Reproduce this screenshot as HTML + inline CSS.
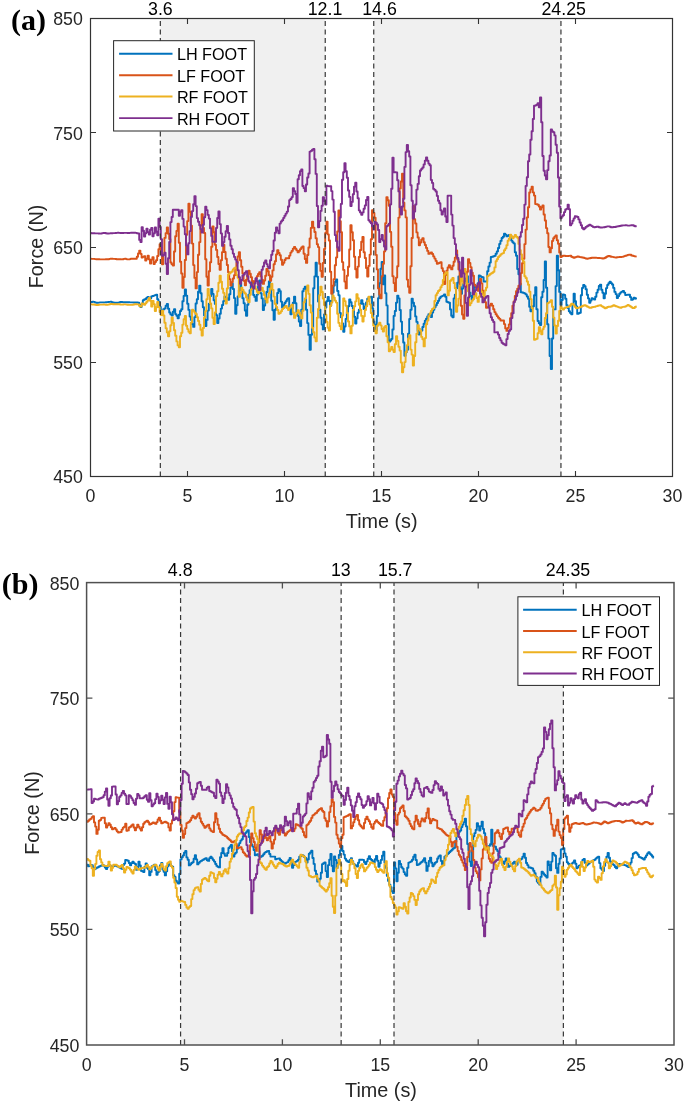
<!DOCTYPE html>
<html><head><meta charset="utf-8"><style>
html,body{margin:0;padding:0;background:#fff;}
svg{display:block;filter:blur(0.35px);}
text{font-family:'Liberation Sans',sans-serif;}
</style></head><body>
<svg width="685" height="1104" viewBox="0 0 685 1104">
<rect width="685" height="1104" fill="#fff"/>
<rect x="160.34" y="18.50" width="164.90" height="458.00" fill="#f0f0f0"/>
<rect x="373.74" y="18.50" width="187.21" height="458.00" fill="#f0f0f0"/>
<polyline points="90.0,302.1 91.2,302.1 91.2,302.0 92.4,302.0 92.4,301.8 93.6,301.8 93.6,301.9 94.8,301.9 94.8,302.4 96.0,302.4 96.0,302.8 97.2,302.8 97.2,302.8 98.4,302.8 98.4,302.6 99.6,302.6 99.6,302.4 100.8,302.4 100.8,302.4 102.0,302.4 102.0,302.4 103.2,302.4 103.2,302.4 104.4,302.4 104.4,302.4 105.6,302.4 105.6,302.2 106.8,302.2 106.8,302.1 108.0,302.1 108.0,302.0 109.2,302.0 109.2,301.9 110.4,301.9 110.4,301.8 111.6,301.8 111.6,302.1 112.8,302.1 112.8,302.5 114.0,302.5 114.0,302.8 115.2,302.8 115.2,302.7 116.4,302.7 116.4,302.7 117.6,302.7 117.6,302.6 118.8,302.6 118.8,302.4 120.0,302.4 120.0,302.0 121.2,302.0 121.2,301.9 122.4,301.9 122.4,302.1 123.6,302.1 123.6,302.2 124.8,302.2 124.8,302.3 126.0,302.3 126.0,302.3 127.2,302.3 127.2,302.3 128.4,302.3 128.4,302.3 129.6,302.3 129.6,302.4 130.8,302.4 130.8,302.4 132.0,302.4 132.0,302.4 133.2,302.4 133.2,302.5 134.4,302.5 134.4,302.5 135.6,302.5 135.6,302.5 136.8,302.5 136.8,302.5 138.0,302.5 138.0,302.6 139.2,302.6 139.2,305.0 140.4,305.0 140.4,307.0 141.6,307.0 141.6,303.7 142.8,303.7 142.8,300.3 144.0,300.3 144.0,299.5 145.2,299.5 145.2,299.0 146.4,299.0 146.4,297.6 147.6,297.6 147.6,297.0 148.8,297.0 148.8,298.1 150.0,298.1 150.0,298.4 151.2,298.4 151.2,296.4 152.4,296.4 152.4,296.0 153.6,296.0 153.6,295.6 154.8,295.6 154.8,295.1 156.0,295.1 156.0,294.7 157.2,294.7 157.2,299.3 158.4,299.3 158.4,301.8 159.6,301.8 159.6,307.0 160.8,307.0 160.8,311.5 162.0,311.5 162.0,310.6 163.2,310.6 163.2,309.3 164.4,309.3 164.4,308.4 165.6,308.4 165.6,305.8 166.8,305.8 166.8,304.0 168.0,304.0 168.0,308.7 169.2,308.7 169.2,312.5 170.4,312.5 170.4,314.4 171.6,314.4 171.6,315.6 172.8,315.6 172.8,311.7 174.0,311.7 174.0,309.2 175.2,309.2 175.2,314.1 176.4,314.1 176.4,315.7 177.6,315.7 177.6,318.2 178.8,318.2 178.8,314.7 180.0,314.7 180.0,311.0 181.2,311.0 181.2,309.2 182.4,309.2 182.4,301.2 183.6,301.2 183.6,295.9 184.8,295.9 184.8,289.4 186.0,289.4 186.0,295.6 187.2,295.6 187.2,303.8 188.4,303.8 188.4,309.9 189.6,309.9 189.6,316.6 190.8,316.6 190.8,319.9 192.0,319.9 192.0,324.2 193.2,324.2 193.2,326.9 194.4,326.9 194.4,317.1 195.6,317.1 195.6,303.5 196.8,303.5 196.8,299.3 198.0,299.3 198.0,291.8 199.2,291.8 199.2,285.6 200.4,285.6 200.4,293.3 201.6,293.3 201.6,301.3 202.8,301.3 202.8,307.3 204.0,307.3 204.0,315.4 205.2,315.4 205.2,326.1 206.4,326.1 206.4,319.9 207.6,319.9 207.6,310.6 208.8,310.6 208.8,303.8 210.0,303.8 210.0,296.1 211.2,296.1 211.2,288.9 212.4,288.9 212.4,293.9 213.6,293.9 213.6,300.2 214.8,300.2 214.8,303.9 216.0,303.9 216.0,315.1 217.2,315.1 217.2,323.1 218.4,323.1 218.4,318.5 219.6,318.5 219.6,313.8 220.8,313.8 220.8,308.6 222.0,308.6 222.0,305.0 223.2,305.0 223.2,301.1 224.4,301.1 224.4,296.8 225.6,296.8 225.6,297.6 226.8,297.6 226.8,298.5 228.0,298.5 228.0,299.8 229.2,299.8 229.2,294.3 230.4,294.3 230.4,287.6 231.6,287.6 231.6,283.4 232.8,283.4 232.8,289.0 234.0,289.0 234.0,298.1 235.2,298.1 235.2,313.7 236.4,313.7 236.4,305.3 237.6,305.3 237.6,296.4 238.8,296.4 238.8,290.2 240.0,290.2 240.0,283.8 241.2,283.8 241.2,290.3 242.4,290.3 242.4,298.2 243.6,298.2 243.6,303.2 244.8,303.2 244.8,310.5 246.0,310.5 246.0,315.8 247.2,315.8 247.2,304.8 248.4,304.8 248.4,294.6 249.6,294.6 249.6,290.2 250.8,290.2 250.8,285.0 252.0,285.0 252.0,281.7 253.2,281.7 253.2,295.0 254.4,295.0 254.4,296.9 255.6,296.9 255.6,300.9 256.8,300.9 256.8,294.6 258.0,294.6 258.0,286.5 259.2,286.5 259.2,280.5 260.4,280.5 260.4,293.3 261.6,293.3 261.6,298.4 262.8,298.4 262.8,310.1 264.0,310.1 264.0,305.5 265.2,305.5 265.2,298.3 266.4,298.3 266.4,292.0 267.6,292.0 267.6,286.7 268.8,286.7 268.8,281.5 270.0,281.5 270.0,289.4 271.2,289.4 271.2,300.8 272.4,300.8 272.4,310.3 273.6,310.3 273.6,319.7 274.8,319.7 274.8,309.7 276.0,309.7 276.0,303.6 277.2,303.6 277.2,293.0 278.4,293.0 278.4,289.1 279.6,289.1 279.6,291.1 280.8,291.1 280.8,301.6 282.0,301.6 282.0,307.6 283.2,307.6 283.2,305.1 284.4,305.1 284.4,303.0 285.6,303.0 285.6,301.2 286.8,301.2 286.8,299.3 288.0,299.3 288.0,298.2 289.2,298.2 289.2,307.8 290.4,307.8 290.4,314.3 291.6,314.3 291.6,308.5 292.8,308.5 292.8,302.7 294.0,302.7 294.0,296.7 295.2,296.7 295.2,303.2 296.4,303.2 296.4,312.6 297.6,312.6 297.6,315.9 298.8,315.9 298.8,321.5 300.0,321.5 300.0,326.1 301.2,326.1 301.2,309.8 302.4,309.8 302.4,291.3 303.6,291.3 303.6,288.7 304.8,288.7 304.8,286.6 306.0,286.6 306.0,309.8 307.2,309.8 307.2,323.1 308.4,323.1 308.4,334.9 309.6,334.9 309.6,349.8 310.8,349.8 310.8,334.8 312.0,334.8 312.0,327.8 313.2,327.8 313.2,288.3 314.4,288.3 314.4,276.4 315.6,276.4 315.6,262.7 316.8,262.7 316.8,276.6 318.0,276.6 318.0,301.5 319.2,301.5 319.2,309.6 320.4,309.6 320.4,317.7 321.6,317.7 321.6,324.6 322.8,324.6 322.8,329.4 324.0,329.4 324.0,314.5 325.2,314.5 325.2,307.5 326.4,307.5 326.4,301.3 327.6,301.3 327.6,297.0 328.8,297.0 328.8,300.7 330.0,300.7 330.0,305.8 331.2,305.8 331.2,300.9 332.4,300.9 332.4,292.6 333.6,292.6 333.6,285.6 334.8,285.6 334.8,281.9 336.0,281.9 336.0,279.5 337.2,279.5 337.2,291.0 338.4,291.0 338.4,295.3 339.6,295.3 339.6,312.9 340.8,312.9 340.8,317.2 342.0,317.2 342.0,323.5 343.2,323.5 343.2,331.8 344.4,331.8 344.4,326.5 345.6,326.5 345.6,318.9 346.8,318.9 346.8,312.6 348.0,312.6 348.0,306.3 349.2,306.3 349.2,299.5 350.4,299.5 350.4,302.3 351.6,302.3 351.6,306.0 352.8,306.0 352.8,308.5 354.0,308.5 354.0,316.8 355.2,316.8 355.2,323.5 356.4,323.5 356.4,318.4 357.6,318.4 357.6,312.7 358.8,312.7 358.8,309.8 360.0,309.8 360.0,303.8 361.2,303.8 361.2,300.1 362.4,300.1 362.4,303.8 363.6,303.8 363.6,309.0 364.8,309.0 364.8,306.6 366.0,306.6 366.0,302.4 367.2,302.4 367.2,298.7 368.4,298.7 368.4,298.0 369.6,298.0 369.6,297.4 370.8,297.4 370.8,296.8 372.0,296.8 372.0,308.2 373.2,308.2 373.2,321.4 374.4,321.4 374.4,324.8 375.6,324.8 375.6,330.6 376.8,330.6 376.8,316.0 378.0,316.0 378.0,298.3 379.2,298.3 379.2,283.3 380.4,283.3 380.4,268.7 381.6,268.7 381.6,261.9 382.8,261.9 382.8,284.2 384.0,284.2 384.0,275.5 385.2,275.5 385.2,293.2 386.4,293.2 386.4,305.4 387.6,305.4 387.6,324.2 388.8,324.2 388.8,341.8 390.0,341.8 390.0,340.5 391.2,340.5 391.2,338.9 392.4,338.9 392.4,329.5 393.6,329.5 393.6,315.9 394.8,315.9 394.8,311.0 396.0,311.0 396.0,302.6 397.2,302.6 397.2,295.6 398.4,295.6 398.4,298.4 399.6,298.4 399.6,310.0 400.8,310.0 400.8,321.6 402.0,321.6 402.0,333.9 403.2,333.9 403.2,342.5 404.4,342.5 404.4,355.8 405.6,355.8 405.6,352.3 406.8,352.3 406.8,349.7 408.0,349.7 408.0,333.7 409.2,333.7 409.2,319.0 410.4,319.0 410.4,309.8 411.6,309.8 411.6,298.7 412.8,298.7 412.8,302.7 414.0,302.7 414.0,306.2 415.2,306.2 415.2,316.4 416.4,316.4 416.4,321.9 417.6,321.9 417.6,331.0 418.8,331.0 418.8,334.5 420.0,334.5 420.0,332.0 421.2,332.0 421.2,330.6 422.4,330.6 422.4,327.0 423.6,327.0 423.6,323.8 424.8,323.8 424.8,320.6 426.0,320.6 426.0,318.7 427.2,318.7 427.2,316.5 428.4,316.5 428.4,314.3 429.6,314.3 429.6,315.9 430.8,315.9 430.8,317.1 432.0,317.1 432.0,312.5 433.2,312.5 433.2,309.8 434.4,309.8 434.4,307.3 435.6,307.3 435.6,305.2 436.8,305.2 436.8,303.0 438.0,303.0 438.0,300.7 439.2,300.7 439.2,298.3 440.4,298.3 440.4,296.7 441.6,296.7 441.6,296.1 442.8,296.1 442.8,295.6 444.0,295.6 444.0,294.5 445.2,294.5 445.2,296.8 446.4,296.8 446.4,301.7 447.6,301.7 447.6,302.2 448.8,302.2 448.8,302.7 450.0,302.7 450.0,309.4 451.2,309.4 451.2,315.7 452.4,315.7 452.4,317.3 453.6,317.3 453.6,298.4 454.8,298.4 454.8,294.7 456.0,294.7 456.0,288.2 457.2,288.2 457.2,282.6 458.4,282.6 458.4,276.4 459.6,276.4 459.6,286.6 460.8,286.6 460.8,293.8 462.0,293.8 462.0,288.6 463.2,288.6 463.2,283.8 464.4,283.8 464.4,281.3 465.6,281.3 465.6,278.4 466.8,278.4 466.8,276.3 468.0,276.3 468.0,285.2 469.2,285.2 469.2,292.6 470.4,292.6 470.4,296.0 471.6,296.0 471.6,299.5 472.8,299.5 472.8,291.6 474.0,291.6 474.0,285.1 475.2,285.1 475.2,287.1 476.4,287.1 476.4,288.9 477.6,288.9 477.6,283.2 478.8,283.2 478.8,275.4 480.0,275.4 480.0,276.2 481.2,276.2 481.2,277.0 482.4,277.0 482.4,277.3 483.6,277.3 483.6,281.6 484.8,281.6 484.8,281.5 486.0,281.5 486.0,281.5 487.2,281.5 487.2,271.2 488.4,271.2 488.4,266.5 489.6,266.5 489.6,262.6 490.8,262.6 490.8,257.0 492.0,257.0 492.0,256.8 493.2,256.8 493.2,256.3 494.4,256.3 494.4,255.9 495.6,255.9 495.6,253.8 496.8,253.8 496.8,251.4 498.0,251.4 498.0,248.0 499.2,248.0 499.2,243.9 500.4,243.9 500.4,240.9 501.6,240.9 501.6,238.0 502.8,238.0 502.8,236.8 504.0,236.8 504.0,233.7 505.2,233.7 505.2,234.6 506.4,234.6 506.4,236.4 507.6,236.4 507.6,235.7 508.8,235.7 508.8,235.0 510.0,235.0 510.0,238.1 511.2,238.1 511.2,240.6 512.4,240.6 512.4,242.3 513.6,242.3 513.6,243.4 514.8,243.4 514.8,252.3 516.0,252.3 516.0,255.8 517.2,255.8 517.2,269.0 518.4,269.0 518.4,274.3 519.6,274.3 519.6,283.7 520.8,283.7 520.8,292.2 522.0,292.2 522.0,292.5 523.2,292.5 523.2,292.9 524.4,292.9 524.4,293.4 525.6,293.4 525.6,294.4 526.8,294.4 526.8,296.5 528.0,296.5 528.0,298.8 529.2,298.8 529.2,306.7 530.4,306.7 530.4,311.2 531.6,311.2 531.6,308.6 532.8,308.6 532.8,306.3 534.0,306.3 534.0,295.2 535.2,295.2 535.2,287.2 536.4,287.2 536.4,309.3 537.6,309.3 537.6,321.0 538.8,321.0 538.8,323.2 540.0,323.2 540.0,325.1 541.2,325.1 541.2,297.2 542.4,297.2 542.4,291.8 543.6,291.8 543.6,280.0 544.8,280.0 544.8,261.4 546.0,261.4 546.0,287.7 547.2,287.7 547.2,324.3 548.4,324.3 548.4,338.6 549.6,338.6 549.6,356.0 550.8,356.0 550.8,369.1 552.0,369.1 552.0,338.5 553.2,338.5 553.2,309.4 554.4,309.4 554.4,309.4 555.6,309.4 555.6,286.1 556.8,286.1 556.8,255.8 558.0,255.8 558.0,270.3 559.2,270.3 559.2,291.9 560.4,291.9 560.4,304.9 561.6,304.9 561.6,300.0 562.8,300.0 562.8,294.5 564.0,294.5 564.0,294.9 565.2,294.9 565.2,298.7 566.4,298.7 566.4,305.2 567.6,305.2 567.6,308.0 568.8,308.0 568.8,311.2 570.0,311.2 570.0,312.9 571.2,312.9 571.2,314.3 572.4,314.3 572.4,304.2 573.6,304.2 573.6,293.7 574.8,293.7 574.8,301.3 576.0,301.3 576.0,306.5 577.2,306.5 577.2,313.9 578.4,313.9 578.4,313.3 579.6,313.3 579.6,312.8 580.8,312.8 580.8,295.3 582.0,295.3 582.0,287.9 583.2,287.9 583.2,285.0 584.4,285.0 584.4,286.3 585.6,286.3 585.6,289.2 586.8,289.2 586.8,294.7 588.0,294.7 588.0,298.4 589.2,298.4 589.2,302.8 590.4,302.8 590.4,300.5 591.6,300.5 591.6,298.3 592.8,298.3 592.8,298.9 594.0,298.9 594.0,299.6 595.2,299.6 595.2,296.7 596.4,296.7 596.4,292.6 597.6,292.6 597.6,289.8 598.8,289.8 598.8,286.0 600.0,286.0 600.0,284.6 601.2,284.6 601.2,289.7 602.4,289.7 602.4,292.8 603.6,292.8 603.6,298.2 604.8,298.2 604.8,293.7 606.0,293.7 606.0,288.1 607.2,288.1 607.2,284.9 608.4,284.9 608.4,283.2 609.6,283.2 609.6,281.7 610.8,281.7 610.8,283.1 612.0,283.1 612.0,284.5 613.2,284.5 613.2,287.9 614.4,287.9 614.4,291.9 615.6,291.9 615.6,294.1 616.8,294.1 616.8,298.0 618.0,298.0 618.0,296.1 619.2,296.1 619.2,293.8 620.4,293.8 620.4,292.4 621.6,292.4 621.6,291.6 622.8,291.6 622.8,290.9 624.0,290.9 624.0,292.6 625.2,292.6 625.2,295.1 626.4,295.1 626.4,294.9 627.6,294.9 627.6,294.7 628.8,294.7 628.8,294.7 630.0,294.7 630.0,297.1 631.2,297.1 631.2,299.9 632.4,299.9 632.4,299.2 633.6,299.2 633.6,297.7 634.8,297.7 634.8,298.3 636.0,298.3 636.0,298.9 636.5,298.9" fill="none" stroke="#0072BD" stroke-width="1.9" stroke-linejoin="round"/>
<polyline points="90.0,258.8 91.2,258.8 91.2,258.9 92.4,258.9 92.4,258.9 93.6,258.9 93.6,258.9 94.8,258.9 94.8,259.1 96.0,259.1 96.0,259.3 97.2,259.3 97.2,259.3 98.4,259.3 98.4,259.3 99.6,259.3 99.6,259.4 100.8,259.4 100.8,259.4 102.0,259.4 102.0,259.4 103.2,259.4 103.2,259.4 104.4,259.4 104.4,259.4 105.6,259.4 105.6,259.3 106.8,259.3 106.8,259.3 108.0,259.3 108.0,259.2 109.2,259.2 109.2,258.9 110.4,258.9 110.4,258.8 111.6,258.8 111.6,258.8 112.8,258.8 112.8,258.9 114.0,258.9 114.0,258.9 115.2,258.9 115.2,259.0 116.4,259.0 116.4,259.2 117.6,259.2 117.6,259.2 118.8,259.2 118.8,259.3 120.0,259.3 120.0,259.3 121.2,259.3 121.2,259.4 122.4,259.4 122.4,259.2 123.6,259.2 123.6,258.9 124.8,258.9 124.8,258.8 126.0,258.8 126.0,259.1 127.2,259.1 127.2,259.4 128.4,259.4 128.4,259.4 129.6,259.4 129.6,259.1 130.8,259.1 130.8,258.8 132.0,258.8 132.0,258.8 133.2,258.8 133.2,258.8 134.4,258.8 134.4,258.8 135.6,258.8 135.6,258.7 136.8,258.7 136.8,256.7 138.0,256.7 138.0,253.4 139.2,253.4 139.2,250.6 140.4,250.6 140.4,253.9 141.6,253.9 141.6,257.6 142.8,257.6 142.8,256.9 144.0,256.9 144.0,256.1 145.2,256.1 145.2,260.5 146.4,260.5 146.4,258.7 147.6,258.7 147.6,255.7 148.8,255.7 148.8,259.4 150.0,259.4 150.0,263.6 151.2,263.6 151.2,259.6 152.4,259.6 152.4,257.3 153.6,257.3 153.6,264.0 154.8,264.0 154.8,262.1 156.0,262.1 156.0,260.3 157.2,260.3 157.2,256.0 158.4,256.0 158.4,249.2 159.6,249.2 159.6,244.3 160.8,244.3 160.8,254.3 162.0,254.3 162.0,264.2 163.2,264.2 163.2,254.6 164.4,254.6 164.4,237.9 165.6,237.9 165.6,233.1 166.8,233.1 166.8,227.5 168.0,227.5 168.0,233.8 169.2,233.8 169.2,239.1 170.4,239.1 170.4,262.5 171.6,262.5 171.6,264.2 172.8,264.2 172.8,265.6 174.0,265.6 174.0,251.5 175.2,251.5 175.2,236.2 176.4,236.2 176.4,230.9 177.6,230.9 177.6,223.7 178.8,223.7 178.8,242.7 180.0,242.7 180.0,261.7 181.2,261.7 181.2,273.5 182.4,273.5 182.4,287.8 183.6,287.8 183.6,277.1 184.8,277.1 184.8,260.0 186.0,260.0 186.0,234.8 187.2,234.8 187.2,221.1 188.4,221.1 188.4,203.7 189.6,203.7 189.6,211.7 190.8,211.7 190.8,225.7 192.0,225.7 192.0,243.6 193.2,243.6 193.2,265.1 194.4,265.1 194.4,277.9 195.6,277.9 195.6,288.4 196.8,288.4 196.8,272.1 198.0,272.1 198.0,254.7 199.2,254.7 199.2,242.1 200.4,242.1 200.4,225.4 201.6,225.4 201.6,214.2 202.8,214.2 202.8,227.9 204.0,227.9 204.0,233.0 205.2,233.0 205.2,259.2 206.4,259.2 206.4,276.8 207.6,276.8 207.6,285.6 208.8,285.6 208.8,271.2 210.0,271.2 210.0,262.3 211.2,262.3 211.2,246.8 212.4,246.8 212.4,226.5 213.6,226.5 213.6,232.3 214.8,232.3 214.8,244.7 216.0,244.7 216.0,249.9 217.2,249.9 217.2,257.0 218.4,257.0 218.4,264.0 219.6,264.0 219.6,269.8 220.8,269.8 220.8,260.3 222.0,260.3 222.0,252.1 223.2,252.1 223.2,244.7 224.4,244.7 224.4,252.0 225.6,252.0 225.6,258.7 226.8,258.7 226.8,265.0 228.0,265.0 228.0,272.3 229.2,272.3 229.2,279.1 230.4,279.1 230.4,285.6 231.6,285.6 231.6,282.1 232.8,282.1 232.8,278.5 234.0,278.5 234.0,275.3 235.2,275.3 235.2,269.1 236.4,269.1 236.4,262.9 237.6,262.9 237.6,256.5 238.8,256.5 238.8,252.2 240.0,252.2 240.0,260.2 241.2,260.2 241.2,266.7 242.4,266.7 242.4,273.4 243.6,273.4 243.6,280.9 244.8,280.9 244.8,285.3 246.0,285.3 246.0,279.6 247.2,279.6 247.2,275.5 248.4,275.5 248.4,270.8 249.6,270.8 249.6,273.7 250.8,273.7 250.8,277.3 252.0,277.3 252.0,281.0 253.2,281.0 253.2,284.1 254.4,284.1 254.4,281.3 255.6,281.3 255.6,278.8 256.8,278.8 256.8,276.3 258.0,276.3 258.0,274.0 259.2,274.0 259.2,272.2 260.4,272.2 260.4,276.4 261.6,276.4 261.6,279.6 262.8,279.6 262.8,283.9 264.0,283.9 264.0,280.6 265.2,280.6 265.2,275.8 266.4,275.8 266.4,269.0 267.6,269.0 267.6,271.3 268.8,271.3 268.8,275.2 270.0,275.2 270.0,280.7 271.2,280.7 271.2,276.8 272.4,276.8 272.4,270.4 273.6,270.4 273.6,264.2 274.8,264.2 274.8,261.2 276.0,261.2 276.0,254.4 277.2,254.4 277.2,250.1 278.4,250.1 278.4,253.0 279.6,253.0 279.6,255.3 280.8,255.3 280.8,259.8 282.0,259.8 282.0,264.7 283.2,264.7 283.2,262.7 284.4,262.7 284.4,260.0 285.6,260.0 285.6,258.2 286.8,258.2 286.8,258.3 288.0,258.3 288.0,258.3 289.2,258.3 289.2,255.6 290.4,255.6 290.4,252.6 291.6,252.6 291.6,250.9 292.8,250.9 292.8,248.6 294.0,248.6 294.0,247.0 295.2,247.0 295.2,248.7 296.4,248.7 296.4,250.4 297.6,250.4 297.6,252.4 298.8,252.4 298.8,250.9 300.0,250.9 300.0,249.1 301.2,249.1 301.2,247.5 302.4,247.5 302.4,246.4 303.6,246.4 303.6,253.7 304.8,253.7 304.8,259.0 306.0,259.0 306.0,262.9 307.2,262.9 307.2,255.0 308.4,255.0 308.4,247.5 309.6,247.5 309.6,238.5 310.8,238.5 310.8,227.9 312.0,227.9 312.0,221.7 313.2,221.7 313.2,227.6 314.4,227.6 314.4,232.0 315.6,232.0 315.6,238.2 316.8,238.2 316.8,244.2 318.0,244.2 318.0,247.1 319.2,247.1 319.2,263.7 320.4,263.7 320.4,270.9 321.6,270.9 321.6,276.8 322.8,276.8 322.8,262.9 324.0,262.9 324.0,249.0 325.2,249.0 325.2,233.0 326.4,233.0 326.4,221.6 327.6,221.6 327.6,234.4 328.8,234.4 328.8,240.5 330.0,240.5 330.0,271.7 331.2,271.7 331.2,293.7 332.4,293.7 332.4,285.7 333.6,285.7 333.6,279.1 334.8,279.1 334.8,265.2 336.0,265.2 336.0,257.4 337.2,257.4 337.2,231.5 338.4,231.5 338.4,210.4 339.6,210.4 339.6,221.3 340.8,221.3 340.8,232.3 342.0,232.3 342.0,262.1 343.2,262.1 343.2,269.9 344.4,269.9 344.4,281.6 345.6,281.6 345.6,288.4 346.8,288.4 346.8,275.7 348.0,275.7 348.0,266.7 349.2,266.7 349.2,249.5 350.4,249.5 350.4,225.3 351.6,225.3 351.6,232.3 352.8,232.3 352.8,240.2 354.0,240.2 354.0,256.8 355.2,256.8 355.2,269.2 356.4,269.2 356.4,277.6 357.6,277.6 357.6,266.6 358.8,266.6 358.8,257.0 360.0,257.0 360.0,250.0 361.2,250.0 361.2,241.8 362.4,241.8 362.4,237.0 363.6,237.0 363.6,252.3 364.8,252.3 364.8,258.0 366.0,258.0 366.0,268.0 367.2,268.0 367.2,276.5 368.4,276.5 368.4,265.9 369.6,265.9 369.6,254.6 370.8,254.6 370.8,239.3 372.0,239.3 372.0,210.3 373.2,210.3 373.2,213.0 374.4,213.0 374.4,217.8 375.6,217.8 375.6,254.9 376.8,254.9 376.8,269.4 378.0,269.4 378.0,288.4 379.2,288.4 379.2,294.6 380.4,294.6 380.4,298.3 381.6,298.3 381.6,276.3 382.8,276.3 382.8,263.8 384.0,263.8 384.0,251.4 385.2,251.4 385.2,223.2 386.4,223.2 386.4,197.1 387.6,197.1 387.6,200.2 388.8,200.2 388.8,205.7 390.0,205.7 390.0,231.9 391.2,231.9 391.2,246.7 392.4,246.7 392.4,276.3 393.6,276.3 393.6,283.1 394.8,283.1 394.8,291.0 396.0,291.0 396.0,277.6 397.2,277.6 397.2,266.3 398.4,266.3 398.4,217.6 399.6,217.6 399.6,188.4 400.8,188.4 400.8,181.5 402.0,181.5 402.0,173.7 403.2,173.7 403.2,202.7 404.4,202.7 404.4,210.4 405.6,210.4 405.6,217.4 406.8,217.4 406.8,279.6 408.0,279.6 408.0,286.8 409.2,286.8 409.2,292.8 410.4,292.8 410.4,266.3 411.6,266.3 411.6,238.0 412.8,238.0 412.8,205.9 414.0,205.9 414.0,219.2 415.2,219.2 415.2,223.5 416.4,223.5 416.4,232.4 417.6,232.4 417.6,237.5 418.8,237.5 418.8,245.2 420.0,245.2 420.0,242.5 421.2,242.5 421.2,239.6 422.4,239.6 422.4,238.1 423.6,238.1 423.6,242.3 424.8,242.3 424.8,245.0 426.0,245.0 426.0,247.9 427.2,247.9 427.2,250.9 428.4,250.9 428.4,253.9 429.6,253.9 429.6,253.3 430.8,253.3 430.8,252.5 432.0,252.5 432.0,254.0 433.2,254.0 433.2,256.4 434.4,256.4 434.4,258.6 435.6,258.6 435.6,260.9 436.8,260.9 436.8,263.7 438.0,263.7 438.0,263.3 439.2,263.3 439.2,262.7 440.4,262.7 440.4,262.2 441.6,262.2 441.6,268.2 442.8,268.2 442.8,271.1 444.0,271.1 444.0,284.1 445.2,284.1 445.2,275.0 446.4,275.0 446.4,270.7 447.6,270.7 447.6,267.5 448.8,267.5 448.8,265.2 450.0,265.2 450.0,267.6 451.2,267.6 451.2,269.4 452.4,269.4 452.4,265.7 453.6,265.7 453.6,261.7 454.8,261.7 454.8,257.6 456.0,257.6 456.0,250.5 457.2,250.5 457.2,259.6 458.4,259.6 458.4,269.4 459.6,269.4 459.6,290.8 460.8,290.8 460.8,305.7 462.0,305.7 462.0,314.6 463.2,314.6 463.2,318.7 464.4,318.7 464.4,295.4 465.6,295.4 465.6,286.7 466.8,286.7 466.8,271.7 468.0,271.7 468.0,259.1 469.2,259.1 469.2,262.9 470.4,262.9 470.4,267.3 471.6,267.3 471.6,272.7 472.8,272.7 472.8,275.8 474.0,275.8 474.0,284.6 475.2,284.6 475.2,286.0 476.4,286.0 476.4,288.6 477.6,288.6 477.6,290.8 478.8,290.8 478.8,285.3 480.0,285.3 480.0,279.0 481.2,279.0 481.2,283.4 482.4,283.4 482.4,290.6 483.6,290.6 483.6,299.0 484.8,299.0 484.8,302.1 486.0,302.1 486.0,307.8 487.2,307.8 487.2,307.4 488.4,307.4 488.4,306.7 489.6,306.7 489.6,305.5 490.8,305.5 490.8,303.6 492.0,303.6 492.0,305.6 493.2,305.6 493.2,309.2 494.4,309.2 494.4,312.1 495.6,312.1 495.6,314.3 496.8,314.3 496.8,316.1 498.0,316.1 498.0,317.7 499.2,317.7 499.2,318.9 500.4,318.9 500.4,320.5 501.6,320.5 501.6,320.5 502.8,320.5 502.8,320.5 504.0,320.5 504.0,324.1 505.2,324.1 505.2,328.4 506.4,328.4 506.4,330.9 507.6,330.9 507.6,327.9 508.8,327.9 508.8,324.4 510.0,324.4 510.0,318.3 511.2,318.3 511.2,313.2 512.4,313.2 512.4,305.7 513.6,305.7 513.6,301.4 514.8,301.4 514.8,295.9 516.0,295.9 516.0,291.3 517.2,291.3 517.2,288.6 518.4,288.6 518.4,285.8 519.6,285.8 519.6,284.4 520.8,284.4 520.8,273.1 522.0,273.1 522.0,263.2 523.2,263.2 523.2,258.7 524.4,258.7 524.4,244.1 525.6,244.1 525.6,229.6 526.8,229.6 526.8,217.4 528.0,217.4 528.0,207.2 529.2,207.2 529.2,192.5 530.4,192.5 530.4,189.4 531.6,189.4 531.6,186.8 532.8,186.8 532.8,192.4 534.0,192.4 534.0,195.6 535.2,195.6 535.2,204.1 536.4,204.1 536.4,204.2 537.6,204.2 537.6,204.8 538.8,204.8 538.8,206.5 540.0,206.5 540.0,209.5 541.2,209.5 541.2,207.2 542.4,207.2 542.4,205.4 543.6,205.4 543.6,214.5 544.8,214.5 544.8,220.5 546.0,220.5 546.0,228.1 547.2,228.1 547.2,233.3 548.4,233.3 548.4,247.0 549.6,247.0 549.6,252.4 550.8,252.4 550.8,248.2 552.0,248.2 552.0,240.9 553.2,240.9 553.2,238.3 554.4,238.3 554.4,236.6 555.6,236.6 555.6,235.5 556.8,235.5 556.8,240.3 558.0,240.3 558.0,243.7 559.2,243.7 559.2,252.6 560.4,252.6 560.4,257.0 561.6,257.0 561.6,256.3 562.8,256.3 562.8,255.6 564.0,255.6 564.0,255.7 565.2,255.7 565.2,256.0 566.4,256.0 566.4,256.1 567.6,256.1 567.6,256.0 568.8,256.0 568.8,255.9 570.0,255.9 570.0,255.8 571.2,255.8 571.2,256.7 572.4,256.7 572.4,257.3 573.6,257.3 573.6,257.8 574.8,257.8 574.8,257.3 576.0,257.3 576.0,256.9 577.2,256.9 577.2,256.5 578.4,256.5 578.4,256.8 579.6,256.8 579.6,257.1 580.8,257.1 580.8,257.3 582.0,257.3 582.0,257.5 583.2,257.5 583.2,257.8 584.4,257.8 584.4,258.1 585.6,258.1 585.6,258.5 586.8,258.5 586.8,258.7 588.0,258.7 588.0,258.4 589.2,258.4 589.2,258.2 590.4,258.2 590.4,258.0 591.6,258.0 591.6,257.8 592.8,257.8 592.8,257.7 594.0,257.7 594.0,257.6 595.2,257.6 595.2,257.8 596.4,257.8 596.4,257.9 597.6,257.9 597.6,258.0 598.8,258.0 598.8,258.0 600.0,258.0 600.0,258.1 601.2,258.1 601.2,258.2 602.4,258.2 602.4,258.5 603.6,258.5 603.6,258.2 604.8,258.2 604.8,257.7 606.0,257.7 606.0,256.9 607.2,256.9 607.2,256.3 608.4,256.3 608.4,255.9 609.6,255.9 609.6,256.3 610.8,256.3 610.8,256.7 612.0,256.7 612.0,256.9 613.2,256.9 613.2,257.1 614.4,257.1 614.4,257.4 615.6,257.4 615.6,257.6 616.8,257.6 616.8,257.3 618.0,257.3 618.0,257.1 619.2,257.1 619.2,257.0 620.4,257.0 620.4,257.0 621.6,257.0 621.6,256.9 622.8,256.9 622.8,256.6 624.0,256.6 624.0,256.1 625.2,256.1 625.2,255.8 626.4,255.8 626.4,255.4 627.6,255.4 627.6,254.9 628.8,254.9 628.8,254.7 630.0,254.7 630.0,254.8 631.2,254.8 631.2,255.5 632.4,255.5 632.4,255.8 633.6,255.8 633.6,256.1 634.8,256.1 634.8,256.4 636.0,256.4 636.0,256.6 636.5,256.6" fill="none" stroke="#D95319" stroke-width="1.9" stroke-linejoin="round"/>
<polyline points="90.0,304.3 91.2,304.3 91.2,304.4 92.4,304.4 92.4,304.5 93.6,304.5 93.6,304.5 94.8,304.5 94.8,304.8 96.0,304.8 96.0,305.0 97.2,305.0 97.2,305.0 98.4,305.0 98.4,304.8 99.6,304.8 99.6,304.6 100.8,304.6 100.8,304.6 102.0,304.6 102.0,304.6 103.2,304.6 103.2,304.5 104.4,304.5 104.4,304.6 105.6,304.6 105.6,304.7 106.8,304.7 106.8,304.8 108.0,304.8 108.0,304.6 109.2,304.6 109.2,304.2 110.4,304.2 110.4,304.0 111.6,304.0 111.6,304.0 112.8,304.0 112.8,304.2 114.0,304.2 114.0,304.2 115.2,304.2 115.2,304.2 116.4,304.2 116.4,304.2 117.6,304.2 117.6,304.2 118.8,304.2 118.8,304.3 120.0,304.3 120.0,304.5 121.2,304.5 121.2,304.6 122.4,304.6 122.4,304.5 123.6,304.5 123.6,304.4 124.8,304.4 124.8,304.4 126.0,304.4 126.0,304.6 127.2,304.6 127.2,304.8 128.4,304.8 128.4,304.9 129.6,304.9 129.6,304.9 130.8,304.9 130.8,304.9 132.0,304.9 132.0,304.8 133.2,304.8 133.2,304.6 134.4,304.6 134.4,304.3 135.6,304.3 135.6,304.3 136.8,304.3 136.8,304.4 138.0,304.4 138.0,304.4 139.2,304.4 139.2,306.0 140.4,306.0 140.4,306.5 141.6,306.5 141.6,303.5 142.8,303.5 142.8,304.0 144.0,304.0 144.0,304.8 145.2,304.8 145.2,303.3 146.4,303.3 146.4,301.8 147.6,301.8 147.6,300.2 148.8,300.2 148.8,297.9 150.0,297.9 150.0,300.8 151.2,300.8 151.2,306.6 152.4,306.6 152.4,300.9 153.6,300.9 153.6,304.1 154.8,304.1 154.8,311.0 156.0,311.0 156.0,307.3 157.2,307.3 157.2,302.0 158.4,302.0 158.4,307.0 159.6,307.0 159.6,312.1 160.8,312.1 160.8,315.1 162.0,315.1 162.0,310.7 163.2,310.7 163.2,315.5 164.4,315.5 164.4,322.8 165.6,322.8 165.6,328.3 166.8,328.3 166.8,332.4 168.0,332.4 168.0,336.2 169.2,336.2 169.2,331.2 170.4,331.2 170.4,325.3 171.6,325.3 171.6,317.5 172.8,317.5 172.8,322.9 174.0,322.9 174.0,330.2 175.2,330.2 175.2,335.8 176.4,335.8 176.4,341.4 177.6,341.4 177.6,345.4 178.8,345.4 178.8,347.2 180.0,347.2 180.0,336.3 181.2,336.3 181.2,332.7 182.4,332.7 182.4,324.6 183.6,324.6 183.6,319.3 184.8,319.3 184.8,316.0 186.0,316.0 186.0,325.7 187.2,325.7 187.2,329.1 188.4,329.1 188.4,331.8 189.6,331.8 189.6,333.2 190.8,333.2 190.8,322.6 192.0,322.6 192.0,309.7 193.2,309.7 193.2,310.9 194.4,310.9 194.4,312.6 195.6,312.6 195.6,314.0 196.8,314.0 196.8,317.3 198.0,317.3 198.0,321.0 199.2,321.0 199.2,324.7 200.4,324.7 200.4,329.7 201.6,329.7 201.6,335.6 202.8,335.6 202.8,328.0 204.0,328.0 204.0,317.8 205.2,317.8 205.2,311.1 206.4,311.1 206.4,299.3 207.6,299.3 207.6,288.9 208.8,288.9 208.8,295.4 210.0,295.4 210.0,303.5 211.2,303.5 211.2,308.4 212.4,308.4 212.4,317.8 213.6,317.8 213.6,324.1 214.8,324.1 214.8,312.4 216.0,312.4 216.0,296.1 217.2,296.1 217.2,291.2 218.4,291.2 218.4,282.7 219.6,282.7 219.6,275.7 220.8,275.7 220.8,281.8 222.0,281.8 222.0,288.8 223.2,288.8 223.2,292.9 224.4,292.9 224.4,299.0 225.6,299.0 225.6,303.6 226.8,303.6 226.8,288.5 228.0,288.5 228.0,274.4 229.2,274.4 229.2,273.4 230.4,273.4 230.4,272.2 231.6,272.2 231.6,271.5 232.8,271.5 232.8,269.4 234.0,269.4 234.0,268.1 235.2,268.1 235.2,267.5 236.4,267.5 236.4,275.1 237.6,275.1 237.6,277.8 238.8,277.8 238.8,296.7 240.0,296.7 240.0,293.0 241.2,293.0 241.2,287.8 242.4,287.8 242.4,290.0 243.6,290.0 243.6,292.3 244.8,292.3 244.8,293.5 246.0,293.5 246.0,297.4 247.2,297.4 247.2,300.2 248.4,300.2 248.4,302.2 249.6,302.2 249.6,294.8 250.8,294.8 250.8,289.4 252.0,289.4 252.0,287.5 253.2,287.5 253.2,284.7 254.4,284.7 254.4,286.3 255.6,286.3 255.6,289.1 256.8,289.1 256.8,291.9 258.0,291.9 258.0,293.4 259.2,293.4 259.2,291.1 260.4,291.1 260.4,289.6 261.6,289.6 261.6,287.8 262.8,287.8 262.8,291.1 264.0,291.1 264.0,295.1 265.2,295.1 265.2,299.1 266.4,299.1 266.4,302.6 267.6,302.6 267.6,297.5 268.8,297.5 268.8,293.0 270.0,293.0 270.0,288.5 271.2,288.5 271.2,283.7 272.4,283.7 272.4,289.9 273.6,289.9 273.6,296.6 274.8,296.6 274.8,303.9 276.0,303.9 276.0,306.9 277.2,306.9 277.2,310.0 278.4,310.0 278.4,313.8 279.6,313.8 279.6,313.0 280.8,313.0 280.8,311.2 282.0,311.2 282.0,309.1 283.2,309.1 283.2,308.1 284.4,308.1 284.4,306.8 285.6,306.8 285.6,305.9 286.8,305.9 286.8,308.1 288.0,308.1 288.0,310.0 289.2,310.0 289.2,307.9 290.4,307.9 290.4,305.7 291.6,305.7 291.6,304.6 292.8,304.6 292.8,312.5 294.0,312.5 294.0,317.9 295.2,317.9 295.2,315.4 296.4,315.4 296.4,312.9 297.6,312.9 297.6,310.2 298.8,310.2 298.8,312.6 300.0,312.6 300.0,315.4 301.2,315.4 301.2,318.4 302.4,318.4 302.4,310.7 303.6,310.7 303.6,302.3 304.8,302.3 304.8,298.4 306.0,298.4 306.0,290.5 307.2,290.5 307.2,285.4 308.4,285.4 308.4,293.9 309.6,293.9 309.6,305.2 310.8,305.2 310.8,312.6 312.0,312.6 312.0,327.7 313.2,327.7 313.2,332.3 314.4,332.3 314.4,337.6 315.6,337.6 315.6,341.2 316.8,341.2 316.8,317.8 318.0,317.8 318.0,309.0 319.2,309.0 319.2,295.2 320.4,295.2 320.4,286.7 321.6,286.7 321.6,292.0 322.8,292.0 322.8,298.5 324.0,298.5 324.0,305.0 325.2,305.0 325.2,314.7 326.4,314.7 326.4,321.9 327.6,321.9 327.6,327.8 328.8,327.8 328.8,330.6 330.0,330.6 330.0,305.8 331.2,305.8 331.2,302.6 332.4,302.6 332.4,295.5 333.6,295.5 333.6,297.6 334.8,297.6 334.8,300.6 336.0,300.6 336.0,302.6 337.2,302.6 337.2,313.7 338.4,313.7 338.4,322.9 339.6,322.9 339.6,326.1 340.8,326.1 340.8,329.3 342.0,329.3 342.0,315.5 343.2,315.5 343.2,298.5 344.4,298.5 344.4,301.1 345.6,301.1 345.6,305.8 346.8,305.8 346.8,313.0 348.0,313.0 348.0,321.5 349.2,321.5 349.2,326.4 350.4,326.4 350.4,333.4 351.6,333.4 351.6,325.7 352.8,325.7 352.8,309.9 354.0,309.9 354.0,306.4 355.2,306.4 355.2,301.4 356.4,301.4 356.4,294.3 357.6,294.3 357.6,298.3 358.8,298.3 358.8,304.8 360.0,304.8 360.0,309.8 361.2,309.8 361.2,315.9 362.4,315.9 362.4,321.6 363.6,321.6 363.6,316.3 364.8,316.3 364.8,310.0 366.0,310.0 366.0,306.2 367.2,306.2 367.2,301.0 368.4,301.0 368.4,296.8 369.6,296.8 369.6,304.4 370.8,304.4 370.8,313.0 372.0,313.0 372.0,317.5 373.2,317.5 373.2,325.6 374.4,325.6 374.4,330.8 375.6,330.8 375.6,333.3 376.8,333.3 376.8,325.9 378.0,325.9 378.0,324.4 379.2,324.4 379.2,322.7 380.4,322.7 380.4,325.4 381.6,325.4 381.6,329.0 382.8,329.0 382.8,331.5 384.0,331.5 384.0,327.2 385.2,327.2 385.2,325.9 386.4,325.9 386.4,336.2 387.6,336.2 387.6,342.3 388.8,342.3 388.8,351.3 390.0,351.3 390.0,349.5 391.2,349.5 391.2,347.0 392.4,347.0 392.4,349.7 393.6,349.7 393.6,352.0 394.8,352.0 394.8,344.3 396.0,344.3 396.0,336.2 397.2,336.2 397.2,340.9 398.4,340.9 398.4,346.8 399.6,346.8 399.6,350.6 400.8,350.6 400.8,362.5 402.0,362.5 402.0,372.3 403.2,372.3 403.2,367.2 404.4,367.2 404.4,362.1 405.6,362.1 405.6,352.0 406.8,352.0 406.8,345.2 408.0,345.2 408.0,338.5 409.2,338.5 409.2,335.2 410.4,335.2 410.4,349.6 411.6,349.6 411.6,354.6 412.8,354.6 412.8,365.6 414.0,365.6 414.0,356.0 415.2,356.0 415.2,342.3 416.4,342.3 416.4,333.7 417.6,333.7 417.6,325.1 418.8,325.1 418.8,328.6 420.0,328.6 420.0,330.8 421.2,330.8 421.2,336.9 422.4,336.9 422.4,339.3 423.6,339.3 423.6,346.4 424.8,346.4 424.8,338.1 426.0,338.1 426.0,324.2 427.2,324.2 427.2,320.6 428.4,320.6 428.4,316.2 429.6,316.2 429.6,313.4 430.8,313.4 430.8,310.9 432.0,310.9 432.0,309.0 433.2,309.0 433.2,308.1 434.4,308.1 434.4,301.0 435.6,301.0 435.6,295.2 436.8,295.2 436.8,293.1 438.0,293.1 438.0,291.0 439.2,291.0 439.2,290.0 440.4,290.0 440.4,287.3 441.6,287.3 441.6,285.1 442.8,285.1 442.8,280.0 444.0,280.0 444.0,274.6 445.2,274.6 445.2,273.1 446.4,273.1 446.4,272.1 447.6,272.1 447.6,295.4 448.8,295.4 448.8,290.7 450.0,290.7 450.0,280.7 451.2,280.7 451.2,279.5 452.4,279.5 452.4,277.9 453.6,277.9 453.6,283.0 454.8,283.0 454.8,288.2 456.0,288.2 456.0,311.7 457.2,311.7 457.2,305.5 458.4,305.5 458.4,298.6 459.6,298.6 459.6,285.6 460.8,285.6 460.8,276.6 462.0,276.6 462.0,281.4 463.2,281.4 463.2,283.5 464.4,283.5 464.4,268.9 465.6,268.9 465.6,274.4 466.8,274.4 466.8,283.7 468.0,283.7 468.0,291.3 469.2,291.3 469.2,305.2 470.4,305.2 470.4,303.1 471.6,303.1 471.6,300.7 472.8,300.7 472.8,299.2 474.0,299.2 474.0,295.7 475.2,295.7 475.2,293.2 476.4,293.2 476.4,298.0 477.6,298.0 477.6,301.9 478.8,301.9 478.8,296.5 480.0,296.5 480.0,290.2 481.2,290.2 481.2,291.9 482.4,291.9 482.4,294.4 483.6,294.4 483.6,296.3 484.8,296.3 484.8,290.4 486.0,290.4 486.0,287.6 487.2,287.6 487.2,276.1 488.4,276.1 488.4,275.4 489.6,275.4 489.6,274.3 490.8,274.3 490.8,273.4 492.0,273.4 492.0,272.8 493.2,272.8 493.2,271.8 494.4,271.8 494.4,267.4 495.6,267.4 495.6,261.2 496.8,261.2 496.8,259.2 498.0,259.2 498.0,257.0 499.2,257.0 499.2,255.9 500.4,255.9 500.4,254.5 501.6,254.5 501.6,253.6 502.8,253.6 502.8,253.1 504.0,253.1 504.0,250.3 505.2,250.3 505.2,248.4 506.4,248.4 506.4,245.3 507.6,245.3 507.6,240.8 508.8,240.8 508.8,238.8 510.0,238.8 510.0,234.7 511.2,234.7 511.2,236.3 512.4,236.3 512.4,238.3 513.6,238.3 513.6,236.8 514.8,236.8 514.8,235.0 516.0,235.0 516.0,236.6 517.2,236.6 517.2,237.8 518.4,237.8 518.4,243.9 519.6,243.9 519.6,250.2 520.8,250.2 520.8,254.4 522.0,254.4 522.0,259.4 523.2,259.4 523.2,261.7 524.4,261.7 524.4,276.2 525.6,276.2 525.6,278.0 526.8,278.0 526.8,281.5 528.0,281.5 528.0,284.7 529.2,284.7 529.2,291.7 530.4,291.7 530.4,299.1 531.6,299.1 531.6,308.0 532.8,308.0 532.8,320.8 534.0,320.8 534.0,339.7 535.2,339.7 535.2,339.3 536.4,339.3 536.4,338.7 537.6,338.7 537.6,333.3 538.8,333.3 538.8,327.1 540.0,327.1 540.0,331.3 541.2,331.3 541.2,334.2 542.4,334.2 542.4,329.2 543.6,329.2 543.6,326.7 544.8,326.7 544.8,318.0 546.0,318.0 546.0,313.3 547.2,313.3 547.2,303.2 548.4,303.2 548.4,302.6 549.6,302.6 549.6,301.7 550.8,301.7 550.8,300.2 552.0,300.2 552.0,306.8 553.2,306.8 553.2,317.6 554.4,317.6 554.4,325.5 555.6,325.5 555.6,333.5 556.8,333.5 556.8,326.0 558.0,326.0 558.0,320.8 559.2,320.8 559.2,310.9 560.4,310.9 560.4,306.5 561.6,306.5 561.6,308.4 562.8,308.4 562.8,309.5 564.0,309.5 564.0,308.1 565.2,308.1 565.2,307.5 566.4,307.5 566.4,307.2 567.6,307.2 567.6,306.8 568.8,306.8 568.8,306.4 570.0,306.4 570.0,305.3 571.2,305.3 571.2,303.6 572.4,303.6 572.4,304.1 573.6,304.1 573.6,305.4 574.8,305.4 574.8,306.9 576.0,306.9 576.0,308.3 577.2,308.3 577.2,308.0 578.4,308.0 578.4,307.6 579.6,307.6 579.6,307.3 580.8,307.3 580.8,306.8 582.0,306.8 582.0,306.0 583.2,306.0 583.2,305.5 584.4,305.5 584.4,305.1 585.6,305.1 585.6,305.8 586.8,305.8 586.8,306.5 588.0,306.5 588.0,307.1 589.2,307.1 589.2,307.8 590.4,307.8 590.4,307.7 591.6,307.7 591.6,307.3 592.8,307.3 592.8,307.0 594.0,307.0 594.0,306.9 595.2,306.9 595.2,306.4 596.4,306.4 596.4,306.1 597.6,306.1 597.6,305.8 598.8,305.8 598.8,305.4 600.0,305.4 600.0,305.2 601.2,305.2 601.2,306.1 602.4,306.1 602.4,306.8 603.6,306.8 603.6,307.5 604.8,307.5 604.8,308.3 606.0,308.3 606.0,307.7 607.2,307.7 607.2,307.0 608.4,307.0 608.4,306.7 609.6,306.7 609.6,306.7 610.8,306.7 610.8,306.5 612.0,306.5 612.0,305.9 613.2,305.9 613.2,305.2 614.4,305.2 614.4,305.7 615.6,305.7 615.6,306.2 616.8,306.2 616.8,306.6 618.0,306.6 618.0,307.1 619.2,307.1 619.2,307.5 620.4,307.5 620.4,307.8 621.6,307.8 621.6,307.1 622.8,307.1 622.8,306.9 624.0,306.9 624.0,306.8 625.2,306.8 625.2,306.4 626.4,306.4 626.4,305.6 627.6,305.6 627.6,304.9 628.8,304.9 628.8,305.6 630.0,305.6 630.0,306.4 631.2,306.4 631.2,307.3 632.4,307.3 632.4,308.0 633.6,308.0 633.6,308.0 634.8,308.0 634.8,306.9 636.0,306.9 636.0,306.4 636.5,306.4" fill="none" stroke="#EDB120" stroke-width="1.9" stroke-linejoin="round"/>
<polyline points="90.0,233.0 91.2,233.0 91.2,233.2 92.4,233.2 92.4,233.3 93.6,233.3 93.6,233.3 94.8,233.3 94.8,233.4 96.0,233.4 96.0,233.4 97.2,233.4 97.2,233.4 98.4,233.4 98.4,233.5 99.6,233.5 99.6,233.6 100.8,233.6 100.8,233.5 102.0,233.5 102.0,233.1 103.2,233.1 103.2,232.9 104.4,232.9 104.4,233.0 105.6,233.0 105.6,233.3 106.8,233.3 106.8,233.5 108.0,233.5 108.0,233.5 109.2,233.5 109.2,233.4 110.4,233.4 110.4,233.3 111.6,233.3 111.6,233.2 112.8,233.2 112.8,233.1 114.0,233.1 114.0,233.1 115.2,233.1 115.2,233.0 116.4,233.0 116.4,232.9 117.6,232.9 117.6,232.8 118.8,232.8 118.8,232.9 120.0,232.9 120.0,233.0 121.2,233.0 121.2,233.0 122.4,233.0 122.4,233.0 123.6,233.0 123.6,232.9 124.8,232.9 124.8,232.9 126.0,232.9 126.0,232.9 127.2,232.9 127.2,233.0 128.4,233.0 128.4,233.0 129.6,233.0 129.6,232.9 130.8,232.9 130.8,232.8 132.0,232.8 132.0,232.8 133.2,232.8 133.2,232.8 134.4,232.8 134.4,232.8 135.6,232.8 135.6,232.9 136.8,232.9 136.8,233.2 138.0,233.2 138.0,233.5 139.2,233.5 139.2,239.9 140.4,239.9 140.4,242.1 141.6,242.1 141.6,227.2 142.8,227.2 142.8,230.7 144.0,230.7 144.0,236.6 145.2,236.6 145.2,233.2 146.4,233.2 146.4,228.8 147.6,228.8 147.6,232.1 148.8,232.1 148.8,234.6 150.0,234.6 150.0,229.8 151.2,229.8 151.2,227.9 152.4,227.9 152.4,236.2 153.6,236.2 153.6,233.4 154.8,233.4 154.8,227.4 156.0,227.4 156.0,231.7 157.2,231.7 157.2,235.2 158.4,235.2 158.4,218.8 159.6,218.8 159.6,226.9 160.8,226.9 160.8,239.3 162.0,239.3 162.0,255.8 163.2,255.8 163.2,254.9 164.4,254.9 164.4,252.7 165.6,252.7 165.6,263.8 166.8,263.8 166.8,274.1 168.0,274.1 168.0,258.2 169.2,258.2 169.2,242.0 170.4,242.0 170.4,222.1 171.6,222.1 171.6,217.0 172.8,217.0 172.8,209.8 174.0,209.8 174.0,209.7 175.2,209.7 175.2,209.8 176.4,209.8 176.4,209.8 177.6,209.8 177.6,209.8 178.8,209.8 178.8,215.8 180.0,215.8 180.0,211.7 181.2,211.7 181.2,210.1 182.4,210.1 182.4,218.9 183.6,218.9 183.6,226.6 184.8,226.6 184.8,234.3 186.0,234.3 186.0,245.4 187.2,245.4 187.2,254.4 188.4,254.4 188.4,243.2 189.6,243.2 189.6,231.1 190.8,231.1 190.8,216.9 192.0,216.9 192.0,211.1 193.2,211.1 193.2,204.2 194.4,204.2 194.4,196.1 195.6,196.1 195.6,206.1 196.8,206.1 196.8,218.1 198.0,218.1 198.0,221.8 199.2,221.8 199.2,225.2 200.4,225.2 200.4,229.1 201.6,229.1 201.6,232.5 202.8,232.5 202.8,224.8 204.0,224.8 204.0,217.2 205.2,217.2 205.2,206.8 206.4,206.8 206.4,210.1 207.6,210.1 207.6,214.9 208.8,214.9 208.8,218.6 210.0,218.6 210.0,228.2 211.2,228.2 211.2,235.9 212.4,235.9 212.4,241.7 213.6,241.7 213.6,241.8 214.8,241.8 214.8,241.9 216.0,241.9 216.0,227.9 217.2,227.9 217.2,218.0 218.4,218.0 218.4,211.4 219.6,211.4 219.6,224.1 220.8,224.1 220.8,233.4 222.0,233.4 222.0,245.9 223.2,245.9 223.2,242.1 224.4,242.1 224.4,236.7 225.6,236.7 225.6,231.2 226.8,231.2 226.8,226.0 228.0,226.0 228.0,233.0 229.2,233.0 229.2,239.4 230.4,239.4 230.4,245.7 231.6,245.7 231.6,249.3 232.8,249.3 232.8,253.6 234.0,253.6 234.0,256.9 235.2,256.9 235.2,259.6 236.4,259.6 236.4,261.9 237.6,261.9 237.6,270.2 238.8,270.2 238.8,277.2 240.0,277.2 240.0,283.7 241.2,283.7 241.2,280.0 242.4,280.0 242.4,275.5 243.6,275.5 243.6,274.4 244.8,274.4 244.8,272.6 246.0,272.6 246.0,271.1 247.2,271.1 247.2,276.4 248.4,276.4 248.4,281.2 249.6,281.2 249.6,282.8 250.8,282.8 250.8,284.8 252.0,284.8 252.0,286.8 253.2,286.8 253.2,288.5 254.4,288.5 254.4,283.5 255.6,283.5 255.6,278.3 256.8,278.3 256.8,281.2 258.0,281.2 258.0,285.0 259.2,285.0 259.2,290.1 260.4,290.1 260.4,282.7 261.6,282.7 261.6,269.7 262.8,269.7 262.8,266.4 264.0,266.4 264.0,262.5 265.2,262.5 265.2,260.5 266.4,260.5 266.4,264.1 267.6,264.1 267.6,266.7 268.8,266.7 268.8,268.2 270.0,268.2 270.0,260.3 271.2,260.3 271.2,254.8 272.4,254.8 272.4,251.0 273.6,251.0 273.6,240.5 274.8,240.5 274.8,232.7 276.0,232.7 276.0,227.5 277.2,227.5 277.2,230.6 278.4,230.6 278.4,233.3 279.6,233.3 279.6,223.6 280.8,223.6 280.8,221.5 282.0,221.5 282.0,220.3 283.2,220.3 283.2,217.9 284.4,217.9 284.4,215.8 285.6,215.8 285.6,213.6 286.8,213.6 286.8,211.6 288.0,211.6 288.0,206.5 289.2,206.5 289.2,200.1 290.4,200.1 290.4,199.0 291.6,199.0 291.6,197.1 292.8,197.1 292.8,188.3 294.0,188.3 294.0,191.1 295.2,191.1 295.2,194.0 296.4,194.0 296.4,202.8 297.6,202.8 297.6,179.3 298.8,179.3 298.8,175.2 300.0,175.2 300.0,171.1 301.2,171.1 301.2,169.5 302.4,169.5 302.4,186.0 303.6,186.0 303.6,188.1 304.8,188.1 304.8,191.3 306.0,191.3 306.0,184.5 307.2,184.5 307.2,177.5 308.4,177.5 308.4,173.5 309.6,173.5 309.6,151.6 310.8,151.6 310.8,150.9 312.0,150.9 312.0,149.7 313.2,149.7 313.2,149.0 314.4,149.0 314.4,159.3 315.6,159.3 315.6,173.9 316.8,173.9 316.8,206.0 318.0,206.0 318.0,227.2 319.2,227.2 319.2,221.1 320.4,221.1 320.4,210.9 321.6,210.9 321.6,205.8 322.8,205.8 322.8,197.2 324.0,197.2 324.0,201.1 325.2,201.1 325.2,204.6 326.4,204.6 326.4,185.8 327.6,185.8 327.6,186.1 328.8,186.1 328.8,186.2 330.0,186.2 330.0,186.1 331.2,186.1 331.2,191.1 332.4,191.1 332.4,199.6 333.6,199.6 333.6,211.8 334.8,211.8 334.8,235.1 336.0,235.1 336.0,241.1 337.2,241.1 337.2,247.5 338.4,247.5 338.4,250.8 339.6,250.8 339.6,217.5 340.8,217.5 340.8,203.9 342.0,203.9 342.0,179.7 343.2,179.7 343.2,172.2 344.4,172.2 344.4,163.2 345.6,163.2 345.6,171.2 346.8,171.2 346.8,177.8 348.0,177.8 348.0,190.5 349.2,190.5 349.2,196.9 350.4,196.9 350.4,206.0 351.6,206.0 351.6,201.9 352.8,201.9 352.8,194.3 354.0,194.3 354.0,186.6 355.2,186.6 355.2,182.8 356.4,182.8 356.4,191.5 357.6,191.5 357.6,198.3 358.8,198.3 358.8,210.4 360.0,210.4 360.0,212.4 361.2,212.4 361.2,214.8 362.4,214.8 362.4,212.4 363.6,212.4 363.6,208.8 364.8,208.8 364.8,205.4 366.0,205.4 366.0,200.0 367.2,200.0 367.2,196.9 368.4,196.9 368.4,220.2 369.6,220.2 369.6,221.7 370.8,221.7 370.8,223.3 372.0,223.3 372.0,226.3 373.2,226.3 373.2,229.6 374.4,229.6 374.4,222.0 375.6,222.0 375.6,222.8 376.8,222.8 376.8,224.4 378.0,224.4 378.0,230.0 379.2,230.0 379.2,242.0 380.4,242.0 380.4,239.1 381.6,239.1 381.6,234.9 382.8,234.9 382.8,240.5 384.0,240.5 384.0,246.5 385.2,246.5 385.2,249.6 386.4,249.6 386.4,226.3 387.6,226.3 387.6,225.3 388.8,225.3 388.8,223.6 390.0,223.6 390.0,204.4 391.2,204.4 391.2,188.8 392.4,188.8 392.4,157.8 393.6,157.8 393.6,172.2 394.8,172.2 394.8,172.2 396.0,172.2 396.0,172.4 397.2,172.4 397.2,180.3 398.4,180.3 398.4,191.4 399.6,191.4 399.6,207.3 400.8,207.3 400.8,214.5 402.0,214.5 402.0,206.5 403.2,206.5 403.2,198.7 404.4,198.7 404.4,166.9 405.6,166.9 405.6,152.1 406.8,152.1 406.8,145.0 408.0,145.0 408.0,151.3 409.2,151.3 409.2,156.5 410.4,156.5 410.4,185.2 411.6,185.2 411.6,200.7 412.8,200.7 412.8,218.6 414.0,218.6 414.0,211.5 415.2,211.5 415.2,204.5 416.4,204.5 416.4,189.6 417.6,189.6 417.6,183.9 418.8,183.9 418.8,176.3 420.0,176.3 420.0,170.5 421.2,170.5 421.2,168.9 422.4,168.9 422.4,167.5 423.6,167.5 423.6,164.4 424.8,164.4 424.8,160.6 426.0,160.6 426.0,157.4 427.2,157.4 427.2,160.7 428.4,160.7 428.4,163.6 429.6,163.6 429.6,165.2 430.8,165.2 430.8,179.9 432.0,179.9 432.0,182.9 433.2,182.9 433.2,188.9 434.4,188.9 434.4,189.9 435.6,189.9 435.6,191.5 436.8,191.5 436.8,195.9 438.0,195.9 438.0,200.8 439.2,200.8 439.2,203.3 440.4,203.3 440.4,210.2 441.6,210.2 441.6,214.5 442.8,214.5 442.8,211.6 444.0,211.6 444.0,208.5 445.2,208.5 445.2,216.5 446.4,216.5 446.4,222.1 447.6,222.1 447.6,195.7 448.8,195.7 448.8,195.6 450.0,195.6 450.0,195.6 451.2,195.6 451.2,214.6 452.4,214.6 452.4,225.6 453.6,225.6 453.6,238.1 454.8,238.1 454.8,244.1 456.0,244.1 456.0,254.6 457.2,254.6 457.2,257.9 458.4,257.9 458.4,261.9 459.6,261.9 459.6,270.8 460.8,270.8 460.8,276.8 462.0,276.8 462.0,257.7 463.2,257.7 463.2,273.4 464.4,273.4 464.4,286.6 465.6,286.6 465.6,302.9 466.8,302.9 466.8,315.7 468.0,315.7 468.0,297.4 469.2,297.4 469.2,284.7 470.4,284.7 470.4,270.3 471.6,270.3 471.6,283.2 472.8,283.2 472.8,294.4 474.0,294.4 474.0,291.8 475.2,291.8 475.2,290.1 476.4,290.1 476.4,287.1 477.6,287.1 477.6,283.9 478.8,283.9 478.8,282.2 480.0,282.2 480.0,293.6 481.2,293.6 481.2,296.9 482.4,296.9 482.4,302.4 483.6,302.4 483.6,300.4 484.8,300.4 484.8,298.1 486.0,298.1 486.0,296.6 487.2,296.6 487.2,295.9 488.4,295.9 488.4,307.6 489.6,307.6 489.6,313.2 490.8,313.2 490.8,317.2 492.0,317.2 492.0,320.0 493.2,320.0 493.2,322.0 494.4,322.0 494.4,332.4 495.6,332.4 495.6,332.4 496.8,332.4 496.8,332.3 498.0,332.3 498.0,334.6 499.2,334.6 499.2,338.0 500.4,338.0 500.4,340.4 501.6,340.4 501.6,342.8 502.8,342.8 502.8,343.7 504.0,343.7 504.0,344.4 505.2,344.4 505.2,345.2 506.4,345.2 506.4,339.1 507.6,339.1 507.6,334.0 508.8,334.0 508.8,330.9 510.0,330.9 510.0,329.4 511.2,329.4 511.2,318.1 512.4,318.1 512.4,313.3 513.6,313.3 513.6,302.3 514.8,302.3 514.8,299.7 516.0,299.7 516.0,296.1 517.2,296.1 517.2,292.5 518.4,292.5 518.4,288.9 519.6,288.9 519.6,236.7 520.8,236.7 520.8,232.2 522.0,232.2 522.0,225.0 523.2,225.0 523.2,218.7 524.4,218.7 524.4,204.6 525.6,204.6 525.6,185.9 526.8,185.9 526.8,177.2 528.0,177.2 528.0,161.2 529.2,161.2 529.2,154.5 530.4,154.5 530.4,139.8 531.6,139.8 531.6,131.3 532.8,131.3 532.8,119.0 534.0,119.0 534.0,105.8 535.2,105.8 535.2,105.4 536.4,105.4 536.4,104.7 537.6,104.7 537.6,103.3 538.8,103.3 538.8,107.2 540.0,107.2 540.0,97.5 541.2,97.5 541.2,122.3 542.4,122.3 542.4,156.0 543.6,156.0 543.6,170.8 544.8,170.8 544.8,175.5 546.0,175.5 546.0,179.3 547.2,179.3 547.2,170.1 548.4,170.1 548.4,161.3 549.6,161.3 549.6,155.5 550.8,155.5 550.8,129.4 552.0,129.4 552.0,131.5 553.2,131.5 553.2,132.3 554.4,132.3 554.4,135.4 555.6,135.4 555.6,144.7 556.8,144.7 556.8,152.8 558.0,152.8 558.0,177.5 559.2,177.5 559.2,206.6 560.4,206.6 560.4,218.3 561.6,218.3 561.6,216.6 562.8,216.6 562.8,215.2 564.0,215.2 564.0,212.1 565.2,212.1 565.2,209.5 566.4,209.5 566.4,208.9 567.6,208.9 567.6,204.8 568.8,204.8 568.8,209.3 570.0,209.3 570.0,225.3 571.2,225.3 571.2,223.6 572.4,223.6 572.4,220.8 573.6,220.8 573.6,218.4 574.8,218.4 574.8,216.2 576.0,216.2 576.0,216.5 577.2,216.5 577.2,217.0 578.4,217.0 578.4,219.4 579.6,219.4 579.6,222.5 580.8,222.5 580.8,225.3 582.0,225.3 582.0,228.0 583.2,228.0 583.2,229.3 584.4,229.3 584.4,228.3 585.6,228.3 585.6,226.9 586.8,226.9 586.8,226.2 588.0,226.2 588.0,225.5 589.2,225.5 589.2,224.7 590.4,224.7 590.4,225.4 591.6,225.4 591.6,226.1 592.8,226.1 592.8,226.9 594.0,226.9 594.0,227.3 595.2,227.3 595.2,227.0 596.4,227.0 596.4,226.7 597.6,226.7 597.6,226.8 598.8,226.8 598.8,227.2 600.0,227.2 600.0,227.5 601.2,227.5 601.2,227.5 602.4,227.5 602.4,227.4 603.6,227.4 603.6,227.2 604.8,227.2 604.8,227.0 606.0,227.0 606.0,226.6 607.2,226.6 607.2,226.4 608.4,226.4 608.4,226.4 609.6,226.4 609.6,226.8 610.8,226.8 610.8,227.2 612.0,227.2 612.0,227.2 613.2,227.2 613.2,227.0 614.4,227.0 614.4,227.0 615.6,227.0 615.6,226.8 616.8,226.8 616.8,226.4 618.0,226.4 618.0,226.2 619.2,226.2 619.2,226.0 620.4,226.0 620.4,225.7 621.6,225.7 621.6,225.5 622.8,225.5 622.8,225.4 624.0,225.4 624.0,225.4 625.2,225.4 625.2,225.3 626.4,225.3 626.4,225.4 627.6,225.4 627.6,225.6 628.8,225.6 628.8,225.6 630.0,225.6 630.0,225.4 631.2,225.4 631.2,225.2 632.4,225.2 632.4,225.3 633.6,225.3 633.6,225.8 634.8,225.8 634.8,226.2 636.0,226.2 636.0,226.4 636.5,226.4" fill="none" stroke="#7E2F8E" stroke-width="1.9" stroke-linejoin="round"/>
<line x1="160.34" y1="476.50" x2="160.34" y2="18.50" stroke="#383838" stroke-width="1.2" stroke-dasharray="5.1 3.4"/>
<line x1="325.24" y1="476.50" x2="325.24" y2="18.50" stroke="#383838" stroke-width="1.2" stroke-dasharray="5.1 3.4"/>
<line x1="373.74" y1="476.50" x2="373.74" y2="18.50" stroke="#383838" stroke-width="1.2" stroke-dasharray="5.1 3.4"/>
<line x1="560.95" y1="476.50" x2="560.95" y2="18.50" stroke="#383838" stroke-width="1.2" stroke-dasharray="5.1 3.4"/>
<path d="M187.50,476.50V471.00M187.50,18.50V24.00M284.50,476.50V471.00M284.50,18.50V24.00M381.50,476.50V471.00M381.50,18.50V24.00M478.50,476.50V471.00M478.50,18.50V24.00M575.50,476.50V471.00M575.50,18.50V24.00M90.50,362.50H96.00M672.50,362.50H667.00M90.50,247.50H96.00M672.50,247.50H667.00M90.50,132.50H96.00M672.50,132.50H667.00" stroke="#333333" stroke-width="1.1" fill="none"/>
<rect x="90.50" y="18.50" width="582.00" height="458.00" fill="none" stroke="#333333" stroke-width="1.2"/>
<rect x="113.6" y="40.7" width="140.70000000000002" height="90.3" fill="#fff" stroke="#262626" stroke-width="1"/>
<line x1="119.1" y1="53.8" x2="172.5" y2="53.8" stroke="#0072BD" stroke-width="1.9"/>
<text x="176.9" y="60.4" font-size="16.2" fill="#000">LH FOOT</text>
<line x1="119.1" y1="75.2" x2="172.5" y2="75.2" stroke="#D95319" stroke-width="1.9"/>
<text x="176.9" y="81.8" font-size="16.2" fill="#000">LF FOOT</text>
<line x1="119.1" y1="96.5" x2="172.5" y2="96.5" stroke="#EDB120" stroke-width="1.9"/>
<text x="176.9" y="103.1" font-size="16.2" fill="#000">RF FOOT</text>
<line x1="119.1" y1="118.1" x2="172.5" y2="118.1" stroke="#7E2F8E" stroke-width="1.9"/>
<text x="176.9" y="124.69999999999999" font-size="16.2" fill="#000">RH FOOT</text>
<text x="90.50" y="502.2" font-size="17.8" text-anchor="middle" fill="#262626">0</text>
<text x="187.50" y="502.2" font-size="17.8" text-anchor="middle" fill="#262626">5</text>
<text x="284.50" y="502.2" font-size="17.8" text-anchor="middle" fill="#262626">10</text>
<text x="381.50" y="502.2" font-size="17.8" text-anchor="middle" fill="#262626">15</text>
<text x="478.50" y="502.2" font-size="17.8" text-anchor="middle" fill="#262626">20</text>
<text x="575.50" y="502.2" font-size="17.8" text-anchor="middle" fill="#262626">25</text>
<text x="672.50" y="502.2" font-size="17.8" text-anchor="middle" fill="#262626">30</text>
<text x="82.9" y="483.40" font-size="17.8" text-anchor="end" fill="#262626">450</text>
<text x="82.9" y="368.90" font-size="17.8" text-anchor="end" fill="#262626">550</text>
<text x="82.9" y="254.40" font-size="17.8" text-anchor="end" fill="#262626">650</text>
<text x="82.9" y="139.90" font-size="17.8" text-anchor="end" fill="#262626">750</text>
<text x="82.9" y="25.40" font-size="17.8" text-anchor="end" fill="#262626">850</text>
<text x="160.4" y="15.3" font-size="17.8" text-anchor="middle" fill="#000">3.6</text>
<text x="325" y="15.3" font-size="17.8" text-anchor="middle" fill="#000">12.1</text>
<text x="379.5" y="15.3" font-size="17.8" text-anchor="middle" fill="#000">14.6</text>
<text x="563.7" y="15.3" font-size="17.8" text-anchor="middle" fill="#000">24.25</text>
<text x="381.7" y="528.4" font-size="19.8" text-anchor="middle" fill="#262626">Time (s)</text>
<text transform="translate(43.2,246.5) rotate(-90)" font-size="19.8" text-anchor="middle" fill="#262626">Force (N)</text>
<text x="11.0" y="29.8" font-size="30" font-weight="bold" style="font-family:Liberation Serif,serif" fill="#000">(a)</text>
<rect x="180.58" y="582.60" width="160.56" height="462.40" fill="#f0f0f0"/>
<rect x="394.01" y="582.60" width="169.37" height="462.40" fill="#f0f0f0"/>
<polyline points="86.8,864.8 88.0,864.8 88.0,866.2 89.2,866.2 89.2,865.5 90.4,865.5 90.4,865.0 91.6,865.0 91.6,865.1 92.8,865.1 92.8,867.5 94.0,867.5 94.0,869.2 95.2,869.2 95.2,868.5 96.4,868.5 96.4,867.7 97.6,867.7 97.6,867.3 98.8,867.3 98.8,866.5 100.0,866.5 100.0,865.9 101.2,865.9 101.2,865.5 102.4,865.5 102.4,864.9 103.6,864.9 103.6,865.8 104.8,865.8 104.8,867.6 106.0,867.6 106.0,869.0 107.2,869.0 107.2,866.8 108.4,866.8 108.4,864.8 109.6,864.8 109.6,865.6 110.8,865.6 110.8,866.5 112.0,866.5 112.0,866.9 113.2,866.9 113.2,866.1 114.4,866.1 114.4,865.3 115.6,865.3 115.6,865.8 116.8,865.8 116.8,866.4 118.0,866.4 118.0,866.8 119.2,866.8 119.2,867.6 120.4,867.6 120.4,868.3 121.6,868.3 121.6,868.7 122.8,868.7 122.8,865.0 124.0,865.0 124.0,863.6 125.2,863.6 125.2,859.9 126.4,859.9 126.4,860.3 127.6,860.3 127.6,860.8 128.8,860.8 128.8,863.0 130.0,863.0 130.0,865.2 131.2,865.2 131.2,863.1 132.4,863.1 132.4,861.6 133.6,861.6 133.6,863.1 134.8,863.1 134.8,863.9 136.0,863.9 136.0,869.7 137.2,869.7 137.2,867.2 138.4,867.2 138.4,861.7 139.6,861.7 139.6,865.5 140.8,865.5 140.8,870.8 142.0,870.8 142.0,871.3 143.2,871.3 143.2,872.0 144.4,872.0 144.4,867.0 145.6,867.0 145.6,863.5 146.8,863.5 146.8,867.7 148.0,867.7 148.0,869.3 149.2,869.3 149.2,875.2 150.4,875.2 150.4,871.9 151.6,871.9 151.6,866.3 152.8,866.3 152.8,865.6 154.0,865.6 154.0,864.7 155.2,864.7 155.2,870.1 156.4,870.1 156.4,874.8 157.6,874.8 157.6,872.2 158.8,872.2 158.8,871.0 160.0,871.0 160.0,865.2 161.2,865.2 161.2,863.0 162.4,863.0 162.4,869.6 163.6,869.6 163.6,871.7 164.8,871.7 164.8,875.4 166.0,875.4 166.0,871.2 167.2,871.2 167.2,866.4 168.4,866.4 168.4,864.9 169.6,864.9 169.6,863.9 170.8,863.9 170.8,865.9 172.0,865.9 172.0,866.6 173.2,866.6 173.2,875.2 174.4,875.2 174.4,877.0 175.6,877.0 175.6,880.8 176.8,880.8 176.8,882.4 178.0,882.4 178.0,883.6 179.2,883.6 179.2,873.7 180.4,873.7 180.4,859.4 181.6,859.4 181.6,857.2 182.8,857.2 182.8,855.4 184.0,855.4 184.0,852.6 185.2,852.6 185.2,851.0 186.4,851.0 186.4,857.4 187.6,857.4 187.6,859.7 188.8,859.7 188.8,865.4 190.0,865.4 190.0,864.4 191.2,864.4 191.2,863.0 192.4,863.0 192.4,862.3 193.6,862.3 193.6,858.7 194.8,858.7 194.8,855.3 196.0,855.3 196.0,859.4 197.2,859.4 197.2,864.4 198.4,864.4 198.4,862.9 199.6,862.9 199.6,861.6 200.8,861.6 200.8,860.9 202.0,860.9 202.0,860.1 203.2,860.1 203.2,859.5 204.4,859.5 204.4,858.7 205.6,858.7 205.6,858.2 206.8,858.2 206.8,860.2 208.0,860.2 208.0,860.9 209.2,860.9 209.2,858.1 210.4,858.1 210.4,856.7 211.6,856.7 211.6,858.2 212.8,858.2 212.8,859.9 214.0,859.9 214.0,861.6 215.2,861.6 215.2,864.0 216.4,864.0 216.4,865.9 217.6,865.9 217.6,866.9 218.8,866.9 218.8,867.4 220.0,867.4 220.0,857.2 221.2,857.2 221.2,853.0 222.4,853.0 222.4,848.2 223.6,848.2 223.6,853.5 224.8,853.5 224.8,855.7 226.0,855.7 226.0,855.7 227.2,855.7 227.2,853.0 228.4,853.0 228.4,848.0 229.6,848.0 229.6,846.5 230.8,846.5 230.8,844.9 232.0,844.9 232.0,851.2 233.2,851.2 233.2,856.5 234.4,856.5 234.4,853.7 235.6,853.7 235.6,852.6 236.8,852.6 236.8,848.7 238.0,848.7 238.0,845.4 239.2,845.4 239.2,843.1 240.4,843.1 240.4,840.6 241.6,840.6 241.6,839.2 242.8,839.2 242.8,836.2 244.0,836.2 244.0,834.5 245.2,834.5 245.2,832.9 246.4,832.9 246.4,831.5 247.6,831.5 247.6,830.1 248.8,830.1 248.8,837.0 250.0,837.0 250.0,842.2 251.2,842.2 251.2,844.5 252.4,844.5 252.4,846.6 253.6,846.6 253.6,850.0 254.8,850.0 254.8,855.2 256.0,855.2 256.0,854.7 257.2,854.7 257.2,854.2 258.4,854.2 258.4,856.1 259.6,856.1 259.6,857.3 260.8,857.3 260.8,856.5 262.0,856.5 262.0,855.7 263.2,855.7 263.2,854.2 264.4,854.2 264.4,852.6 265.6,852.6 265.6,852.0 266.8,852.0 266.8,851.3 268.0,851.3 268.0,850.9 269.2,850.9 269.2,854.0 270.4,854.0 270.4,856.6 271.6,856.6 271.6,856.6 272.8,856.6 272.8,856.6 274.0,856.6 274.0,856.6 275.2,856.6 275.2,859.3 276.4,859.3 276.4,858.9 277.6,858.9 277.6,858.6 278.8,858.6 278.8,858.4 280.0,858.4 280.0,860.0 281.2,860.0 281.2,861.1 282.4,861.1 282.4,862.2 283.6,862.2 283.6,863.2 284.8,863.2 284.8,863.6 286.0,863.6 286.0,862.6 287.2,862.6 287.2,862.1 288.4,862.1 288.4,860.3 289.6,860.3 289.6,857.9 290.8,857.9 290.8,861.5 292.0,861.5 292.0,867.8 293.2,867.8 293.2,865.1 294.4,865.1 294.4,862.1 295.6,862.1 295.6,861.6 296.8,861.6 296.8,860.9 298.0,860.9 298.0,859.6 299.2,859.6 299.2,856.7 300.4,856.7 300.4,856.0 301.6,856.0 301.6,854.9 302.8,854.9 302.8,855.8 304.0,855.8 304.0,857.1 305.2,857.1 305.2,858.0 306.4,858.0 306.4,862.6 307.6,862.6 307.6,859.4 308.8,859.4 308.8,853.8 310.0,853.8 310.0,852.4 311.2,852.4 311.2,850.8 312.4,850.8 312.4,858.0 313.6,858.0 313.6,863.9 314.8,863.9 314.8,870.8 316.0,870.8 316.0,874.3 317.2,874.3 317.2,881.6 318.4,881.6 318.4,880.7 319.6,880.7 319.6,878.7 320.8,878.7 320.8,872.8 322.0,872.8 322.0,864.1 323.2,864.1 323.2,863.2 324.4,863.2 324.4,862.4 325.6,862.4 325.6,871.1 326.8,871.1 326.8,877.0 328.0,877.0 328.0,865.1 329.2,865.1 329.2,859.6 330.4,859.6 330.4,853.9 331.6,853.9 331.6,865.9 332.8,865.9 332.8,871.2 334.0,871.2 334.0,856.4 335.2,856.4 335.2,860.0 336.4,860.0 336.4,868.1 337.6,868.1 337.6,862.8 338.8,862.8 338.8,855.0 340.0,855.0 340.0,850.4 341.2,850.4 341.2,845.9 342.4,845.9 342.4,851.0 343.6,851.0 343.6,854.6 344.8,854.6 344.8,858.6 346.0,858.6 346.0,860.5 347.2,860.5 347.2,861.5 348.4,861.5 348.4,862.1 349.6,862.1 349.6,859.9 350.8,859.9 350.8,858.2 352.0,858.2 352.0,861.1 353.2,861.1 353.2,864.0 354.4,864.0 354.4,864.6 355.6,864.6 355.6,865.6 356.8,865.6 356.8,866.5 358.0,866.5 358.0,862.8 359.2,862.8 359.2,859.7 360.4,859.7 360.4,859.8 361.6,859.8 361.6,859.8 362.8,859.8 362.8,859.9 364.0,859.9 364.0,862.3 365.2,862.3 365.2,864.0 366.4,864.0 366.4,861.4 367.6,861.4 367.6,858.8 368.8,858.8 368.8,856.2 370.0,856.2 370.0,859.0 371.2,859.0 371.2,860.0 372.4,860.0 372.4,861.5 373.6,861.5 373.6,862.4 374.8,862.4 374.8,859.2 376.0,859.2 376.0,856.0 377.2,856.0 377.2,860.7 378.4,860.7 378.4,866.7 379.6,866.7 379.6,863.2 380.8,863.2 380.8,859.9 382.0,859.9 382.0,855.6 383.2,855.6 383.2,851.8 384.4,851.8 384.4,862.5 385.6,862.5 385.6,867.8 386.8,867.8 386.8,875.9 388.0,875.9 388.0,880.9 389.2,880.9 389.2,884.6 390.4,884.6 390.4,887.2 391.6,887.2 391.6,891.2 392.8,891.2 392.8,893.1 394.0,893.1 394.0,862.4 395.2,862.4 395.2,868.4 396.4,868.4 396.4,881.2 397.6,881.2 397.6,872.8 398.8,872.8 398.8,860.9 400.0,860.9 400.0,864.0 401.2,864.0 401.2,867.2 402.4,867.2 402.4,868.6 403.6,868.6 403.6,872.1 404.8,872.1 404.8,874.4 406.0,874.4 406.0,875.7 407.2,875.7 407.2,867.8 408.4,867.8 408.4,862.6 409.6,862.6 409.6,862.1 410.8,862.1 410.8,861.4 412.0,861.4 412.0,859.8 413.2,859.8 413.2,856.7 414.4,856.7 414.4,854.7 415.6,854.7 415.6,860.0 416.8,860.0 416.8,865.1 418.0,865.1 418.0,864.6 419.2,864.6 419.2,863.7 420.4,863.7 420.4,862.5 421.6,862.5 421.6,861.7 422.8,861.7 422.8,860.2 424.0,860.2 424.0,858.1 425.2,858.1 425.2,862.6 426.4,862.6 426.4,870.9 427.6,870.9 427.6,866.3 428.8,866.3 428.8,860.9 430.0,860.9 430.0,857.7 431.2,857.7 431.2,862.7 432.4,862.7 432.4,866.2 433.6,866.2 433.6,864.5 434.8,864.5 434.8,862.8 436.0,862.8 436.0,861.9 437.2,861.9 437.2,858.5 438.4,858.5 438.4,856.4 439.6,856.4 439.6,855.5 440.8,855.5 440.8,860.9 442.0,860.9 442.0,864.2 443.2,864.2 443.2,861.1 444.4,861.1 444.4,856.7 445.6,856.7 445.6,855.7 446.8,855.7 446.8,854.3 448.0,854.3 448.0,853.2 449.2,853.2 449.2,852.0 450.4,852.0 450.4,850.9 451.6,850.9 451.6,849.7 452.8,849.7 452.8,848.5 454.0,848.5 454.0,847.7 455.2,847.7 455.2,841.3 456.4,841.3 456.4,836.2 457.6,836.2 457.6,834.0 458.8,834.0 458.8,831.7 460.0,831.7 460.0,830.5 461.2,830.5 461.2,827.1 462.4,827.1 462.4,824.6 463.6,824.6 463.6,822.1 464.8,822.1 464.8,818.6 466.0,818.6 466.0,826.4 467.2,826.4 467.2,844.0 468.4,844.0 468.4,850.4 469.6,850.4 469.6,861.6 470.8,861.6 470.8,866.1 472.0,866.1 472.0,850.4 473.2,850.4 473.2,836.3 474.4,836.3 474.4,833.1 475.6,833.1 475.6,829.9 476.8,829.9 476.8,823.2 478.0,823.2 478.0,826.3 479.2,826.3 479.2,830.6 480.4,830.6 480.4,826.1 481.6,826.1 481.6,821.6 482.8,821.6 482.8,828.9 484.0,828.9 484.0,833.3 485.2,833.3 485.2,843.4 486.4,843.4 486.4,847.0 487.6,847.0 487.6,849.7 488.8,849.7 488.8,845.9 490.0,845.9 490.0,844.1 491.2,844.1 491.2,829.6 492.4,829.6 492.4,845.8 493.6,845.8 493.6,846.3 494.8,846.3 494.8,846.7 496.0,846.7 496.0,849.4 497.2,849.4 497.2,851.1 498.4,851.1 498.4,855.5 499.6,855.5 499.6,857.2 500.8,857.2 500.8,860.0 502.0,860.0 502.0,861.4 503.2,861.4 503.2,864.1 504.4,864.1 504.4,861.4 505.6,861.4 505.6,858.4 506.8,858.4 506.8,863.5 508.0,863.5 508.0,866.9 509.2,866.9 509.2,866.0 510.4,866.0 510.4,865.3 511.6,865.3 511.6,864.3 512.8,864.3 512.8,862.9 514.0,862.9 514.0,861.7 515.2,861.7 515.2,863.8 516.4,863.8 516.4,864.7 517.6,864.7 517.6,860.4 518.8,860.4 518.8,860.0 520.0,860.0 520.0,859.5 521.2,859.5 521.2,858.7 522.4,858.7 522.4,856.6 523.6,856.6 523.6,853.6 524.8,853.6 524.8,857.8 526.0,857.8 526.0,863.0 527.2,863.0 527.2,865.1 528.4,865.1 528.4,867.5 529.6,867.5 529.6,867.5 530.8,867.5 530.8,868.0 532.0,868.0 532.0,868.5 533.2,868.5 533.2,870.8 534.4,870.8 534.4,873.1 535.6,873.1 535.6,876.6 536.8,876.6 536.8,881.6 538.0,881.6 538.0,883.0 539.2,883.0 539.2,884.6 540.4,884.6 540.4,876.9 541.6,876.9 541.6,871.6 542.8,871.6 542.8,873.2 544.0,873.2 544.0,874.7 545.2,874.7 545.2,876.0 546.4,876.0 546.4,877.5 547.6,877.5 547.6,861.4 548.8,861.4 548.8,865.0 550.0,865.0 550.0,870.3 551.2,870.3 551.2,861.6 552.4,861.6 552.4,852.9 553.6,852.9 553.6,854.6 554.8,854.6 554.8,855.8 556.0,855.8 556.0,868.2 557.2,868.2 557.2,872.9 558.4,872.9 558.4,863.8 559.6,863.8 559.6,858.5 560.8,858.5 560.8,849.4 562.0,849.4 562.0,848.9 563.2,848.9 563.2,848.1 564.4,848.1 564.4,853.4 565.6,853.4 565.6,856.6 566.8,856.6 566.8,862.3 568.0,862.3 568.0,863.7 569.2,863.7 569.2,865.4 570.4,865.4 570.4,864.6 571.6,864.6 571.6,863.4 572.8,863.4 572.8,862.4 574.0,862.4 574.0,860.5 575.2,860.5 575.2,863.8 576.4,863.8 576.4,868.2 577.6,868.2 577.6,867.1 578.8,867.1 578.8,865.8 580.0,865.8 580.0,865.2 581.2,865.2 581.2,862.1 582.4,862.1 582.4,859.9 583.6,859.9 583.6,858.9 584.8,858.9 584.8,862.9 586.0,862.9 586.0,865.5 587.2,865.5 587.2,864.6 588.4,864.6 588.4,863.5 589.6,863.5 589.6,862.3 590.8,862.3 590.8,861.6 592.0,861.6 592.0,860.9 593.2,860.9 593.2,860.3 594.4,860.3 594.4,859.8 595.6,859.8 595.6,858.4 596.8,858.4 596.8,857.4 598.0,857.4 598.0,856.8 599.2,856.8 599.2,863.1 600.4,863.1 600.4,868.2 601.6,868.2 601.6,869.7 602.8,869.7 602.8,871.1 604.0,871.1 604.0,865.8 605.2,865.8 605.2,862.1 606.4,862.1 606.4,856.6 607.6,856.6 607.6,853.0 608.8,853.0 608.8,857.7 610.0,857.7 610.0,861.8 611.2,861.8 611.2,863.0 612.4,863.0 612.4,864.3 613.6,864.3 613.6,865.1 614.8,865.1 614.8,867.0 616.0,867.0 616.0,868.2 617.2,868.2 617.2,866.3 618.4,866.3 618.4,863.9 619.6,863.9 619.6,864.1 620.8,864.1 620.8,864.4 622.0,864.4 622.0,864.7 623.2,864.7 623.2,864.9 624.4,864.9 624.4,865.1 625.6,865.1 625.6,865.5 626.8,865.5 626.8,866.3 628.0,866.3 628.0,867.0 629.2,867.0 629.2,864.7 630.4,864.7 630.4,862.6 631.6,862.6 631.6,858.1 632.8,858.1 632.8,853.7 634.0,853.7 634.0,852.9 635.2,852.9 635.2,852.1 636.4,852.1 636.4,853.1 637.6,853.1 637.6,854.7 638.8,854.7 638.8,856.9 640.0,856.9 640.0,857.4 641.2,857.4 641.2,858.0 642.4,858.0 642.4,858.7 643.6,858.7 643.6,859.5 644.8,859.5 644.8,857.4 646.0,857.4 646.0,855.4 647.2,855.4 647.2,853.4 648.4,853.4 648.4,852.1 649.6,852.1 649.6,853.7 650.8,853.7 650.8,854.9 652.0,854.9 652.0,856.5 653.2,856.5 653.2,857.7 653.7,857.7" fill="none" stroke="#0072BD" stroke-width="1.9" stroke-linejoin="round"/>
<polyline points="86.8,821.7 88.0,821.7 88.0,820.7 89.2,820.7 89.2,819.5 90.4,819.5 90.4,818.9 91.6,818.9 91.6,817.3 92.8,817.3 92.8,816.3 94.0,816.3 94.0,822.4 95.2,822.4 95.2,826.6 96.4,826.6 96.4,833.9 97.6,833.9 97.6,829.7 98.8,829.7 98.8,820.8 100.0,820.8 100.0,819.9 101.2,819.9 101.2,817.9 102.4,817.9 102.4,817.8 103.6,817.8 103.6,817.8 104.8,817.8 104.8,823.2 106.0,823.2 106.0,827.6 107.2,827.6 107.2,825.4 108.4,825.4 108.4,823.1 109.6,823.1 109.6,824.8 110.8,824.8 110.8,827.3 112.0,827.3 112.0,829.2 113.2,829.2 113.2,828.6 114.4,828.6 114.4,827.9 115.6,827.9 115.6,829.5 116.8,829.5 116.8,831.4 118.0,831.4 118.0,832.5 119.2,832.5 119.2,832.3 120.4,832.3 120.4,832.0 121.6,832.0 121.6,829.6 122.8,829.6 122.8,827.6 124.0,827.6 124.0,826.7 125.2,826.7 125.2,823.7 126.4,823.7 126.4,830.7 127.6,830.7 127.6,830.4 128.8,830.4 128.8,827.5 130.0,827.5 130.0,826.7 131.2,826.7 131.2,825.5 132.4,825.5 132.4,824.5 133.6,824.5 133.6,827.5 134.8,827.5 134.8,830.2 136.0,830.2 136.0,827.6 137.2,827.6 137.2,824.6 138.4,824.6 138.4,826.7 139.6,826.7 139.6,828.6 140.8,828.6 140.8,830.6 142.0,830.6 142.0,827.3 143.2,827.3 143.2,823.8 144.4,823.8 144.4,822.2 145.6,822.2 145.6,821.4 146.8,821.4 146.8,820.6 148.0,820.6 148.0,822.3 149.2,822.3 149.2,824.5 150.4,824.5 150.4,824.0 151.6,824.0 151.6,823.2 152.8,823.2 152.8,822.4 154.0,822.4 154.0,823.1 155.2,823.1 155.2,823.9 156.4,823.9 156.4,822.1 157.6,822.1 157.6,819.5 158.8,819.5 158.8,817.6 160.0,817.6 160.0,820.7 161.2,820.7 161.2,823.3 162.4,823.3 162.4,822.7 163.6,822.7 163.6,822.1 164.8,822.1 164.8,821.7 166.0,821.7 166.0,822.5 167.2,822.5 167.2,823.1 168.4,823.1 168.4,827.4 169.6,827.4 169.6,830.6 170.8,830.6 170.8,823.6 172.0,823.6 172.0,820.2 173.2,820.2 173.2,811.3 174.4,811.3 174.4,802.1 175.6,802.1 175.6,797.2 176.8,797.2 176.8,797.6 178.0,797.6 178.0,797.6 179.2,797.6 179.2,812.0 180.4,812.0 180.4,824.9 181.6,824.9 181.6,830.5 182.8,830.5 182.8,837.7 184.0,837.7 184.0,834.1 185.2,834.1 185.2,828.1 186.4,828.1 186.4,823.1 187.6,823.1 187.6,822.5 188.8,822.5 188.8,821.8 190.0,821.8 190.0,820.2 191.2,820.2 191.2,817.7 192.4,817.7 192.4,815.8 193.6,815.8 193.6,817.2 194.8,817.2 194.8,818.6 196.0,818.6 196.0,816.7 197.2,816.7 197.2,814.5 198.4,814.5 198.4,813.2 199.6,813.2 199.6,818.2 200.8,818.2 200.8,821.8 202.0,821.8 202.0,823.6 203.2,823.6 203.2,825.6 204.4,825.6 204.4,827.7 205.6,827.7 205.6,826.7 206.8,826.7 206.8,825.4 208.0,825.4 208.0,824.8 209.2,824.8 209.2,828.4 210.4,828.4 210.4,830.5 211.6,830.5 211.6,831.4 212.8,831.4 212.8,832.0 214.0,832.0 214.0,822.3 215.2,822.3 215.2,813.3 216.4,813.3 216.4,818.6 217.6,818.6 217.6,824.8 218.8,824.8 218.8,828.7 220.0,828.7 220.0,832.0 221.2,832.0 221.2,833.3 222.4,833.3 222.4,834.8 223.6,834.8 223.6,835.3 224.8,835.3 224.8,836.0 226.0,836.0 226.0,836.6 227.2,836.6 227.2,838.0 228.4,838.0 228.4,839.3 229.6,839.3 229.6,840.1 230.8,840.1 230.8,841.5 232.0,841.5 232.0,842.4 233.2,842.4 233.2,841.6 234.4,841.6 234.4,841.0 235.6,841.0 235.6,843.9 236.8,843.9 236.8,848.2 238.0,848.2 238.0,847.9 239.2,847.9 239.2,847.4 240.4,847.4 240.4,847.1 241.6,847.1 241.6,849.4 242.8,849.4 242.8,852.2 244.0,852.2 244.0,853.4 245.2,853.4 245.2,855.2 246.4,855.2 246.4,856.5 247.6,856.5 247.6,855.7 248.8,855.7 248.8,855.1 250.0,855.1 250.0,845.3 251.2,845.3 251.2,833.4 252.4,833.4 252.4,838.1 253.6,838.1 253.6,842.0 254.8,842.0 254.8,847.6 256.0,847.6 256.0,850.8 257.2,850.8 257.2,844.5 258.4,844.5 258.4,842.1 259.6,842.1 259.6,830.3 260.8,830.3 260.8,834.4 262.0,834.4 262.0,841.8 263.2,841.8 263.2,838.3 264.4,838.3 264.4,834.4 265.6,834.4 265.6,837.8 266.8,837.8 266.8,840.2 268.0,840.2 268.0,838.1 269.2,838.1 269.2,836.1 270.4,836.1 270.4,841.6 271.6,841.6 271.6,848.5 272.8,848.5 272.8,843.7 274.0,843.7 274.0,839.6 275.2,839.6 275.2,827.3 276.4,827.3 276.4,829.8 277.6,829.8 277.6,832.9 278.8,832.9 278.8,834.7 280.0,834.7 280.0,830.4 281.2,830.4 281.2,827.5 282.4,827.5 282.4,830.4 283.6,830.4 283.6,832.9 284.8,832.9 284.8,835.6 286.0,835.6 286.0,833.8 287.2,833.8 287.2,832.0 288.4,832.0 288.4,831.1 289.6,831.1 289.6,830.2 290.8,830.2 290.8,829.6 292.0,829.6 292.0,830.2 293.2,830.2 293.2,831.0 294.4,831.0 294.4,828.6 295.6,828.6 295.6,824.2 296.8,824.2 296.8,824.7 298.0,824.7 298.0,825.4 299.2,825.4 299.2,825.9 300.4,825.9 300.4,827.6 301.6,827.6 301.6,828.8 302.8,828.8 302.8,832.0 304.0,832.0 304.0,835.6 305.2,835.6 305.2,837.2 306.4,837.2 306.4,825.3 307.6,825.3 307.6,824.1 308.8,824.1 308.8,822.2 310.0,822.2 310.0,820.8 311.2,820.8 311.2,817.9 312.4,817.9 312.4,815.4 313.6,815.4 313.6,814.6 314.8,814.6 314.8,813.4 316.0,813.4 316.0,812.7 317.2,812.7 317.2,811.0 318.4,811.0 318.4,809.8 319.6,809.8 319.6,809.0 320.8,809.0 320.8,808.2 322.0,808.2 322.0,810.7 323.2,810.7 323.2,812.0 324.4,812.0 324.4,818.3 325.6,818.3 325.6,820.7 326.8,820.7 326.8,826.6 328.0,826.6 328.0,821.4 329.2,821.4 329.2,812.1 330.4,812.1 330.4,806.2 331.6,806.2 331.6,799.1 332.8,799.1 332.8,802.1 334.0,802.1 334.0,816.9 335.2,816.9 335.2,822.6 336.4,822.6 336.4,834.7 337.6,834.7 337.6,838.5 338.8,838.5 338.8,843.6 340.0,843.6 340.0,847.1 341.2,847.1 341.2,838.2 342.4,838.2 342.4,834.8 343.6,834.8 343.6,817.1 344.8,817.1 344.8,816.8 346.0,816.8 346.0,816.1 347.2,816.1 347.2,815.7 348.4,815.7 348.4,814.7 349.6,814.7 349.6,814.1 350.8,814.1 350.8,828.4 352.0,828.4 352.0,826.0 353.2,826.0 353.2,822.3 354.4,822.3 354.4,819.2 355.6,819.2 355.6,816.4 356.8,816.4 356.8,815.0 358.0,815.0 358.0,820.3 359.2,820.3 359.2,824.5 360.4,824.5 360.4,826.0 361.6,826.0 361.6,827.5 362.8,827.5 362.8,828.5 364.0,828.5 364.0,822.9 365.2,822.9 365.2,819.0 366.4,819.0 366.4,816.8 367.6,816.8 367.6,819.4 368.8,819.4 368.8,821.2 370.0,821.2 370.0,824.1 371.2,824.1 371.2,827.2 372.4,827.2 372.4,828.8 373.6,828.8 373.6,823.6 374.8,823.6 374.8,821.6 376.0,821.6 376.0,820.3 377.2,820.3 377.2,821.9 378.4,821.9 378.4,823.0 379.6,823.0 379.6,824.0 380.8,824.0 380.8,825.2 382.0,825.2 382.0,825.9 383.2,825.9 383.2,820.6 384.4,820.6 384.4,817.2 385.6,817.2 385.6,812.0 386.8,812.0 386.8,808.3 388.0,808.3 388.0,798.1 389.2,798.1 389.2,793.0 390.4,793.0 390.4,789.5 391.6,789.5 391.6,794.5 392.8,794.5 392.8,796.9 394.0,796.9 394.0,813.0 395.2,813.0 395.2,820.8 396.4,820.8 396.4,824.7 397.6,824.7 397.6,814.6 398.8,814.6 398.8,812.6 400.0,812.6 400.0,808.3 401.2,808.3 401.2,807.0 402.4,807.0 402.4,805.5 403.6,805.5 403.6,811.0 404.8,811.0 404.8,816.3 406.0,816.3 406.0,817.4 407.2,817.4 407.2,818.8 408.4,818.8 408.4,820.7 409.6,820.7 409.6,823.9 410.8,823.9 410.8,826.3 412.0,826.3 412.0,828.4 413.2,828.4 413.2,829.3 414.4,829.3 414.4,821.6 415.6,821.6 415.6,815.8 416.8,815.8 416.8,819.8 418.0,819.8 418.0,824.1 419.2,824.1 419.2,826.2 420.4,826.2 420.4,821.5 421.6,821.5 421.6,818.5 422.8,818.5 422.8,819.8 424.0,819.8 424.0,821.6 425.2,821.6 425.2,818.0 426.4,818.0 426.4,812.6 427.6,812.6 427.6,808.5 428.8,808.5 428.8,818.5 430.0,818.5 430.0,823.2 431.2,823.2 431.2,820.8 432.4,820.8 432.4,819.0 433.6,819.0 433.6,819.7 434.8,819.7 434.8,820.3 436.0,820.3 436.0,820.6 437.2,820.6 437.2,827.9 438.4,827.9 438.4,828.4 439.6,828.4 439.6,829.0 440.8,829.0 440.8,829.4 442.0,829.4 442.0,830.7 443.2,830.7 443.2,832.0 444.4,832.0 444.4,833.2 445.6,833.2 445.6,834.6 446.8,834.6 446.8,835.4 448.0,835.4 448.0,836.0 449.2,836.0 449.2,836.3 450.4,836.3 450.4,841.7 451.6,841.7 451.6,846.6 452.8,846.6 452.8,842.5 454.0,842.5 454.0,841.8 455.2,841.8 455.2,840.9 456.4,840.9 456.4,846.8 457.6,846.8 457.6,851.0 458.8,851.0 458.8,854.9 460.0,854.9 460.0,856.7 461.2,856.7 461.2,860.1 462.4,860.1 462.4,862.6 463.6,862.6 463.6,865.8 464.8,865.8 464.8,870.1 466.0,870.1 466.0,866.1 467.2,866.1 467.2,857.0 468.4,857.0 468.4,851.9 469.6,851.9 469.6,842.9 470.8,842.9 470.8,846.6 472.0,846.6 472.0,851.0 473.2,851.0 473.2,860.0 474.4,860.0 474.4,867.5 475.6,867.5 475.6,871.2 476.8,871.2 476.8,873.2 478.0,873.2 478.0,877.2 479.2,877.2 479.2,880.4 480.4,880.4 480.4,869.4 481.6,869.4 481.6,858.4 482.8,858.4 482.8,849.5 484.0,849.5 484.0,844.1 485.2,844.1 485.2,836.9 486.4,836.9 486.4,846.4 487.6,846.4 487.6,852.8 488.8,852.8 488.8,858.7 490.0,858.7 490.0,861.4 491.2,861.4 491.2,862.8 492.4,862.8 492.4,853.3 493.6,853.3 493.6,843.7 494.8,843.7 494.8,833.3 496.0,833.3 496.0,832.3 497.2,832.3 497.2,830.3 498.4,830.3 498.4,833.0 499.6,833.0 499.6,836.6 500.8,836.6 500.8,839.1 502.0,839.1 502.0,833.7 503.2,833.7 503.2,829.0 504.4,829.0 504.4,828.4 505.6,828.4 505.6,827.8 506.8,827.8 506.8,827.4 508.0,827.4 508.0,831.6 509.2,831.6 509.2,834.5 510.4,834.5 510.4,832.1 511.6,832.1 511.6,828.8 512.8,828.8 512.8,828.6 514.0,828.6 514.0,828.1 515.2,828.1 515.2,827.8 516.4,827.8 516.4,827.7 517.6,827.7 517.6,832.2 518.8,832.2 518.8,835.2 520.0,835.2 520.0,836.8 521.2,836.8 521.2,830.5 522.4,830.5 522.4,826.7 523.6,826.7 523.6,823.6 524.8,823.6 524.8,819.4 526.0,819.4 526.0,817.9 527.2,817.9 527.2,815.4 528.4,815.4 528.4,813.5 529.6,813.5 529.6,811.8 530.8,811.8 530.8,810.0 532.0,810.0 532.0,809.1 533.2,809.1 533.2,807.7 534.4,807.7 534.4,808.6 535.6,808.6 535.6,810.6 536.8,810.6 536.8,810.8 538.0,810.8 538.0,809.9 539.2,809.9 539.2,809.6 540.4,809.6 540.4,807.9 541.6,807.9 541.6,805.5 542.8,805.5 542.8,803.6 544.0,803.6 544.0,800.9 545.2,800.9 545.2,798.9 546.4,798.9 546.4,798.1 547.6,798.1 547.6,797.8 548.8,797.8 548.8,808.1 550.0,808.1 550.0,813.4 551.2,813.4 551.2,824.6 552.4,824.6 552.4,829.3 553.6,829.3 553.6,835.9 554.8,835.9 554.8,830.5 556.0,830.5 556.0,825.4 557.2,825.4 557.2,819.8 558.4,819.8 558.4,831.6 559.6,831.6 559.6,835.1 560.8,835.1 560.8,837.9 562.0,837.9 562.0,845.1 563.2,845.1 563.2,829.1 564.4,829.1 564.4,818.5 565.6,818.5 565.6,817.3 566.8,817.3 566.8,815.8 568.0,815.8 568.0,824.5 569.2,824.5 569.2,831.8 570.4,831.8 570.4,827.7 571.6,827.7 571.6,824.3 572.8,824.3 572.8,823.7 574.0,823.7 574.0,823.3 575.2,823.3 575.2,823.0 576.4,823.0 576.4,823.5 577.6,823.5 577.6,823.8 578.8,823.8 578.8,824.0 580.0,824.0 580.0,823.5 581.2,823.5 581.2,823.2 582.4,823.2 582.4,822.9 583.6,822.9 583.6,823.6 584.8,823.6 584.8,824.3 586.0,824.3 586.0,824.6 587.2,824.6 587.2,824.2 588.4,824.2 588.4,824.0 589.6,824.0 589.6,823.8 590.8,823.8 590.8,823.4 592.0,823.4 592.0,822.9 593.2,822.9 593.2,822.4 594.4,822.4 594.4,822.6 595.6,822.6 595.6,822.7 596.8,822.7 596.8,822.9 598.0,822.9 598.0,823.3 599.2,823.3 599.2,823.8 600.4,823.8 600.4,824.2 601.6,824.2 601.6,823.5 602.8,823.5 602.8,822.5 604.0,822.5 604.0,821.5 605.2,821.5 605.2,822.0 606.4,822.0 606.4,822.7 607.6,822.7 607.6,823.3 608.8,823.3 608.8,822.7 610.0,822.7 610.0,822.3 611.2,822.3 611.2,821.7 612.4,821.7 612.4,821.5 613.6,821.5 613.6,821.2 614.8,821.2 614.8,820.9 616.0,820.9 616.0,820.9 617.2,820.9 617.2,821.0 618.4,821.0 618.4,820.9 619.6,820.9 619.6,821.2 620.8,821.2 620.8,821.7 622.0,821.7 622.0,822.5 623.2,822.5 623.2,822.0 624.4,822.0 624.4,821.4 625.6,821.4 625.6,820.8 626.8,820.8 626.8,820.9 628.0,820.9 628.0,820.9 629.2,820.9 629.2,820.7 630.4,820.7 630.4,820.5 631.6,820.5 631.6,820.2 632.8,820.2 632.8,821.2 634.0,821.2 634.0,822.6 635.2,822.6 635.2,823.6 636.4,823.6 636.4,823.0 637.6,823.0 637.6,822.5 638.8,822.5 638.8,823.2 640.0,823.2 640.0,823.9 641.2,823.9 641.2,824.4 642.4,824.4 642.4,823.5 643.6,823.5 643.6,822.7 644.8,822.7 644.8,821.9 646.0,821.9 646.0,822.0 647.2,822.0 647.2,822.4 648.4,822.4 648.4,823.0 649.6,823.0 649.6,824.0 650.8,824.0 650.8,824.2 652.0,824.2 652.0,823.5 653.2,823.5 653.2,823.2 653.7,823.2" fill="none" stroke="#D95319" stroke-width="1.9" stroke-linejoin="round"/>
<polyline points="86.8,859.0 88.0,859.0 88.0,860.1 89.2,860.1 89.2,860.7 90.4,860.7 90.4,865.4 91.6,865.4 91.6,868.3 92.8,868.3 92.8,875.8 94.0,875.8 94.0,868.8 95.2,868.8 95.2,863.9 96.4,863.9 96.4,855.8 97.6,855.8 97.6,852.0 98.8,852.0 98.8,850.5 100.0,850.5 100.0,859.2 101.2,859.2 101.2,862.4 102.4,862.4 102.4,865.2 103.6,865.2 103.6,865.8 104.8,865.8 104.8,865.9 106.0,865.9 106.0,866.0 107.2,866.0 107.2,866.0 108.4,866.0 108.4,861.6 109.6,861.6 109.6,865.1 110.8,865.1 110.8,870.6 112.0,870.6 112.0,867.7 113.2,867.7 113.2,864.7 114.4,864.7 114.4,864.7 115.6,864.7 115.6,864.8 116.8,864.8 116.8,865.6 118.0,865.6 118.0,866.6 119.2,866.6 119.2,867.2 120.4,867.2 120.4,866.0 121.6,866.0 121.6,864.9 122.8,864.9 122.8,868.1 124.0,868.1 124.0,872.6 125.2,872.6 125.2,869.8 126.4,869.8 126.4,866.9 127.6,866.9 127.6,867.5 128.8,867.5 128.8,868.3 130.0,868.3 130.0,869.7 131.2,869.7 131.2,871.8 132.4,871.8 132.4,873.6 133.6,873.6 133.6,869.9 134.8,869.9 134.8,866.4 136.0,866.4 136.0,867.6 137.2,867.6 137.2,868.9 138.4,868.9 138.4,869.8 139.6,869.8 139.6,869.0 140.8,869.0 140.8,868.2 142.0,868.2 142.0,867.9 143.2,867.9 143.2,867.7 144.4,867.7 144.4,867.7 145.6,867.7 145.6,866.0 146.8,866.0 146.8,864.9 148.0,864.9 148.0,866.9 149.2,866.9 149.2,869.4 150.4,869.4 150.4,868.4 151.6,868.4 151.6,866.9 152.8,866.9 152.8,865.6 154.0,865.6 154.0,865.1 155.2,865.1 155.2,864.6 156.4,864.6 156.4,866.4 157.6,866.4 157.6,868.8 158.8,868.8 158.8,870.5 160.0,870.5 160.0,866.9 161.2,866.9 161.2,863.9 162.4,863.9 162.4,866.5 163.6,866.5 163.6,869.2 164.8,869.2 164.8,870.5 166.0,870.5 166.0,866.1 167.2,866.1 167.2,863.2 168.4,863.2 168.4,862.2 169.6,862.2 169.6,861.5 170.8,861.5 170.8,866.0 172.0,866.0 172.0,867.8 173.2,867.8 173.2,877.8 174.4,877.8 174.4,882.6 175.6,882.6 175.6,888.0 176.8,888.0 176.8,896.8 178.0,896.8 178.0,899.7 179.2,899.7 179.2,901.7 180.4,901.7 180.4,900.6 181.6,900.6 181.6,901.1 182.8,901.1 182.8,901.6 184.0,901.6 184.0,902.0 185.2,902.0 185.2,904.9 186.4,904.9 186.4,907.5 187.6,907.5 187.6,908.8 188.8,908.8 188.8,907.1 190.0,907.1 190.0,906.0 191.2,906.0 191.2,899.1 192.4,899.1 192.4,894.2 193.6,894.2 193.6,890.1 194.8,890.1 194.8,888.1 196.0,888.1 196.0,887.4 197.2,887.4 197.2,887.1 198.4,887.1 198.4,889.7 199.6,889.7 199.6,891.6 200.8,891.6 200.8,883.9 202.0,883.9 202.0,879.6 203.2,879.6 203.2,878.7 204.4,878.7 204.4,877.9 205.6,877.9 205.6,878.9 206.8,878.9 206.8,880.4 208.0,880.4 208.0,881.3 209.2,881.3 209.2,875.8 210.4,875.8 210.4,872.2 211.6,872.2 211.6,872.9 212.8,872.9 212.8,873.4 214.0,873.4 214.0,877.9 215.2,877.9 215.2,882.2 216.4,882.2 216.4,878.7 217.6,878.7 217.6,874.7 218.8,874.7 218.8,871.9 220.0,871.9 220.0,874.4 221.2,874.4 221.2,876.4 222.4,876.4 222.4,873.7 223.6,873.7 223.6,870.7 224.8,870.7 224.8,869.2 226.0,869.2 226.0,871.9 227.2,871.9 227.2,873.6 228.4,873.6 228.4,868.3 229.6,868.3 229.6,861.8 230.8,861.8 230.8,858.8 232.0,858.8 232.0,853.6 233.2,853.6 233.2,849.8 234.4,849.8 234.4,844.9 235.6,844.9 235.6,840.3 236.8,840.3 236.8,836.5 238.0,836.5 238.0,834.6 239.2,834.6 239.2,833.5 240.4,833.5 240.4,833.5 241.6,833.5 241.6,833.3 242.8,833.3 242.8,830.3 244.0,830.3 244.0,827.2 245.2,827.2 245.2,826.0 246.4,826.0 246.4,821.0 247.6,821.0 247.6,817.6 248.8,817.6 248.8,812.5 250.0,812.5 250.0,808.5 251.2,808.5 251.2,807.5 252.4,807.5 252.4,807.0 253.6,807.0 253.6,821.6 254.8,821.6 254.8,833.2 256.0,833.2 256.0,836.4 257.2,836.4 257.2,839.3 258.4,839.3 258.4,851.1 259.6,851.1 259.6,862.1 260.8,862.1 260.8,863.3 262.0,863.3 262.0,865.6 263.2,865.6 263.2,867.1 264.4,867.1 264.4,868.8 265.6,868.8 265.6,869.8 266.8,869.8 266.8,867.2 268.0,867.2 268.0,866.3 269.2,866.3 269.2,863.5 270.4,863.5 270.4,860.9 271.6,860.9 271.6,862.2 272.8,862.2 272.8,864.6 274.0,864.6 274.0,866.4 275.2,866.4 275.2,868.0 276.4,868.0 276.4,866.2 277.6,866.2 277.6,864.0 278.8,864.0 278.8,862.8 280.0,862.8 280.0,863.4 281.2,863.4 281.2,863.7 282.4,863.7 282.4,864.0 283.6,864.0 283.6,865.2 284.8,865.2 284.8,865.9 286.0,865.9 286.0,866.5 287.2,866.5 287.2,866.0 288.4,866.0 288.4,865.7 289.6,865.7 289.6,863.7 290.8,863.7 290.8,861.3 292.0,861.3 292.0,859.8 293.2,859.8 293.2,862.4 294.4,862.4 294.4,863.9 295.6,863.9 295.6,865.0 296.8,865.0 296.8,866.4 298.0,866.4 298.0,867.8 299.2,867.8 299.2,862.4 300.4,862.4 300.4,854.7 301.6,854.7 301.6,855.3 302.8,855.3 302.8,856.2 304.0,856.2 304.0,856.6 305.2,856.6 305.2,861.5 306.4,861.5 306.4,867.7 307.6,867.7 307.6,870.5 308.8,870.5 308.8,875.6 310.0,875.6 310.0,876.3 311.2,876.3 311.2,877.0 312.4,877.0 312.4,877.4 313.6,877.4 313.6,876.7 314.8,876.7 314.8,876.2 316.0,876.2 316.0,875.7 317.2,875.7 317.2,878.4 318.4,878.4 318.4,880.8 319.6,880.8 319.6,885.8 320.8,885.8 320.8,886.7 322.0,886.7 322.0,887.9 323.2,887.9 323.2,888.7 324.4,888.7 324.4,890.2 325.6,890.2 325.6,891.6 326.8,891.6 326.8,889.7 328.0,889.7 328.0,887.3 329.2,887.3 329.2,883.2 330.4,883.2 330.4,878.3 331.6,878.3 331.6,895.7 332.8,895.7 332.8,906.7 334.0,906.7 334.0,913.1 335.2,913.1 335.2,895.6 336.4,895.6 336.4,868.1 337.6,868.1 337.6,864.8 338.8,864.8 338.8,859.6 340.0,859.6 340.0,863.9 341.2,863.9 341.2,873.9 342.4,873.9 342.4,881.4 343.6,881.4 343.6,880.1 344.8,880.1 344.8,882.4 346.0,882.4 346.0,886.0 347.2,886.0 347.2,879.0 348.4,879.0 348.4,870.8 349.6,870.8 349.6,864.5 350.8,864.5 350.8,859.6 352.0,859.6 352.0,862.0 353.2,862.0 353.2,864.1 354.4,864.1 354.4,868.2 355.6,868.2 355.6,874.0 356.8,874.0 356.8,878.1 358.0,878.1 358.0,870.8 359.2,870.8 359.2,868.0 360.4,868.0 360.4,865.5 361.6,865.5 361.6,864.2 362.8,864.2 362.8,867.5 364.0,867.5 364.0,871.4 365.2,871.4 365.2,869.9 366.4,869.9 366.4,867.9 367.6,867.9 367.6,866.6 368.8,866.6 368.8,864.7 370.0,864.7 370.0,862.5 371.2,862.5 371.2,862.8 372.4,862.8 372.4,863.3 373.6,863.3 373.6,863.6 374.8,863.6 374.8,867.1 376.0,867.1 376.0,869.7 377.2,869.7 377.2,872.1 378.4,872.1 378.4,870.6 379.6,870.6 379.6,869.1 380.8,869.1 380.8,870.0 382.0,870.0 382.0,871.6 383.2,871.6 383.2,872.7 384.4,872.7 384.4,864.2 385.6,864.2 385.6,861.2 386.8,861.2 386.8,873.1 388.0,873.1 388.0,877.8 389.2,877.8 389.2,885.7 390.4,885.7 390.4,897.0 391.6,897.0 391.6,899.2 392.8,899.2 392.8,903.0 394.0,903.0 394.0,905.1 395.2,905.1 395.2,907.4 396.4,907.4 396.4,914.5 397.6,914.5 397.6,911.4 398.8,911.4 398.8,907.1 400.0,907.1 400.0,907.6 401.2,907.6 401.2,908.3 402.4,908.3 402.4,908.8 403.6,908.8 403.6,903.3 404.8,903.3 404.8,906.7 406.0,906.7 406.0,911.3 407.2,911.3 407.2,913.5 408.4,913.5 408.4,901.9 409.6,901.9 409.6,897.5 410.8,897.5 410.8,893.0 412.0,893.0 412.0,894.0 413.2,894.0 413.2,896.1 414.4,896.1 414.4,899.9 415.6,899.9 415.6,905.1 416.8,905.1 416.8,900.0 418.0,900.0 418.0,894.3 419.2,894.3 419.2,891.5 420.4,891.5 420.4,889.8 421.6,889.8 421.6,888.6 422.8,888.6 422.8,888.1 424.0,888.1 424.0,891.3 425.2,891.3 425.2,893.4 426.4,893.4 426.4,891.3 427.6,891.3 427.6,889.0 428.8,889.0 428.8,886.7 430.0,886.7 430.0,883.7 431.2,883.7 431.2,879.5 432.4,879.5 432.4,880.3 433.6,880.3 433.6,881.7 434.8,881.7 434.8,883.0 436.0,883.0 436.0,876.7 437.2,876.7 437.2,872.8 438.4,872.8 438.4,870.0 439.6,870.0 439.6,867.7 440.8,867.7 440.8,866.7 442.0,866.7 442.0,865.8 443.2,865.8 443.2,865.3 444.4,865.3 444.4,860.1 445.6,860.1 445.6,856.4 446.8,856.4 446.8,849.9 448.0,849.9 448.0,844.6 449.2,844.6 449.2,837.2 450.4,837.2 450.4,833.0 451.6,833.0 451.6,830.7 452.8,830.7 452.8,829.0 454.0,829.0 454.0,832.7 455.2,832.7 455.2,836.3 456.4,836.3 456.4,832.9 457.6,832.9 457.6,828.9 458.8,828.9 458.8,826.8 460.0,826.8 460.0,823.7 461.2,823.7 461.2,821.5 462.4,821.5 462.4,815.7 463.6,815.7 463.6,810.3 464.8,810.3 464.8,805.0 466.0,805.0 466.0,799.1 467.2,799.1 467.2,796.0 468.4,796.0 468.4,805.0 469.6,805.0 469.6,829.1 470.8,829.1 470.8,834.3 472.0,834.3 472.0,840.7 473.2,840.7 473.2,843.8 474.4,843.8 474.4,846.4 475.6,846.4 475.6,840.9 476.8,840.9 476.8,837.7 478.0,837.7 478.0,834.8 479.2,834.8 479.2,835.3 480.4,835.3 480.4,836.4 481.6,836.4 481.6,839.5 482.8,839.5 482.8,843.8 484.0,843.8 484.0,846.9 485.2,846.9 485.2,849.8 486.4,849.8 486.4,848.2 487.6,848.2 487.6,847.1 488.8,847.1 488.8,853.2 490.0,853.2 490.0,855.8 491.2,855.8 491.2,855.6 492.4,855.6 492.4,857.3 493.6,857.3 493.6,861.4 494.8,861.4 494.8,864.6 496.0,864.6 496.0,869.0 497.2,869.0 497.2,866.0 498.4,866.0 498.4,863.3 499.6,863.3 499.6,860.5 500.8,860.5 500.8,858.8 502.0,858.8 502.0,865.0 503.2,865.0 503.2,867.4 504.4,867.4 504.4,870.0 505.6,870.0 505.6,866.6 506.8,866.6 506.8,861.8 508.0,861.8 508.0,858.4 509.2,858.4 509.2,861.6 510.4,861.6 510.4,864.5 511.6,864.5 511.6,866.5 512.8,866.5 512.8,869.2 514.0,869.2 514.0,871.3 515.2,871.3 515.2,866.0 516.4,866.0 516.4,861.6 517.6,861.6 517.6,860.2 518.8,860.2 518.8,858.8 520.0,858.8 520.0,862.8 521.2,862.8 521.2,867.5 522.4,867.5 522.4,867.9 523.6,867.9 523.6,868.8 524.8,868.8 524.8,869.8 526.0,869.8 526.0,870.8 527.2,870.8 527.2,871.6 528.4,871.6 528.4,873.0 529.6,873.0 529.6,874.6 530.8,874.6 530.8,875.7 532.0,875.7 532.0,875.1 533.2,875.1 533.2,874.8 534.4,874.8 534.4,876.1 535.6,876.1 535.6,877.8 536.8,877.8 536.8,877.7 538.0,877.7 538.0,881.2 539.2,881.2 539.2,883.3 540.4,883.3 540.4,885.2 541.6,885.2 541.6,887.6 542.8,887.6 542.8,888.7 544.0,888.7 544.0,890.4 545.2,890.4 545.2,891.8 546.4,891.8 546.4,892.5 547.6,892.5 547.6,893.2 548.8,893.2 548.8,892.2 550.0,892.2 550.0,890.9 551.2,890.9 551.2,890.0 552.4,890.0 552.4,885.8 553.6,885.8 553.6,884.4 554.8,884.4 554.8,875.8 556.0,875.8 556.0,887.5 557.2,887.5 557.2,909.7 558.4,909.7 558.4,895.3 559.6,895.3 559.6,888.2 560.8,888.2 560.8,881.7 562.0,881.7 562.0,866.8 563.2,866.8 563.2,869.9 564.4,869.9 564.4,876.8 565.6,876.8 565.6,874.4 566.8,874.4 566.8,869.6 568.0,869.6 568.0,867.7 569.2,867.7 569.2,865.7 570.4,865.7 570.4,864.8 571.6,864.8 571.6,866.8 572.8,866.8 572.8,868.1 574.0,868.1 574.0,869.3 575.2,869.3 575.2,871.1 576.4,871.1 576.4,872.2 577.6,872.2 577.6,873.8 578.8,873.8 578.8,875.0 580.0,875.0 580.0,866.6 581.2,866.6 581.2,862.0 582.4,862.0 582.4,866.9 583.6,866.9 583.6,871.1 584.8,871.1 584.8,867.6 586.0,867.6 586.0,863.5 587.2,863.5 587.2,861.0 588.4,861.0 588.4,861.7 589.6,861.7 589.6,862.1 590.8,862.1 590.8,861.5 592.0,861.5 592.0,860.6 593.2,860.6 593.2,866.7 594.4,866.7 594.4,879.6 595.6,879.6 595.6,881.4 596.8,881.4 596.8,882.5 598.0,882.5 598.0,876.7 599.2,876.7 599.2,878.0 600.4,878.0 600.4,879.9 601.6,879.9 601.6,873.2 602.8,873.2 602.8,866.4 604.0,866.4 604.0,861.9 605.2,861.9 605.2,859.1 606.4,859.1 606.4,861.5 607.6,861.5 607.6,862.7 608.8,862.7 608.8,868.3 610.0,868.3 610.0,866.2 611.2,866.2 611.2,862.9 612.4,862.9 612.4,860.4 613.6,860.4 613.6,861.1 614.8,861.1 614.8,861.8 616.0,861.8 616.0,862.9 617.2,862.9 617.2,864.3 618.4,864.3 618.4,866.2 619.6,866.2 619.6,865.6 620.8,865.6 620.8,864.8 622.0,864.8 622.0,863.9 623.2,863.9 623.2,862.9 624.4,862.9 624.4,861.8 625.6,861.8 625.6,862.1 626.8,862.1 626.8,863.0 628.0,863.0 628.0,863.6 629.2,863.6 629.2,866.1 630.4,866.1 630.4,867.8 631.6,867.8 631.6,870.3 632.8,870.3 632.8,873.3 634.0,873.3 634.0,875.3 635.2,875.3 635.2,874.9 636.4,874.9 636.4,874.3 637.6,874.3 637.6,871.9 638.8,871.9 638.8,869.0 640.0,869.0 640.0,868.6 641.2,868.6 641.2,868.3 642.4,868.3 642.4,868.0 643.6,868.0 643.6,868.0 644.8,868.0 644.8,868.0 646.0,868.0 646.0,869.9 647.2,869.9 647.2,872.4 648.4,872.4 648.4,874.3 649.6,874.3 649.6,876.5 650.8,876.5 650.8,877.2 652.0,877.2 652.0,875.9 653.2,875.9 653.2,875.3 653.7,875.3" fill="none" stroke="#EDB120" stroke-width="1.9" stroke-linejoin="round"/>
<polyline points="86.8,789.6 88.0,789.6 88.0,789.5 89.2,789.5 89.2,789.4 90.4,789.4 90.4,789.1 91.6,789.1 91.6,803.1 92.8,803.1 92.8,801.5 94.0,801.5 94.0,798.7 95.2,798.7 95.2,799.1 96.4,799.1 96.4,799.4 97.6,799.4 97.6,799.5 98.8,799.5 98.8,798.7 100.0,798.7 100.0,798.2 101.2,798.2 101.2,797.7 102.4,797.7 102.4,797.2 103.6,797.2 103.6,795.3 104.8,795.3 104.8,791.6 106.0,791.6 106.0,788.5 107.2,788.5 107.2,799.5 108.4,799.5 108.4,805.8 109.6,805.8 109.6,798.3 110.8,798.3 110.8,795.5 112.0,795.5 112.0,786.6 113.2,786.6 113.2,786.5 114.4,786.5 114.4,786.4 115.6,786.4 115.6,794.5 116.8,794.5 116.8,804.2 118.0,804.2 118.0,801.2 119.2,801.2 119.2,796.9 120.4,796.9 120.4,795.4 121.6,795.4 121.6,792.9 122.8,792.9 122.8,790.9 124.0,790.9 124.0,793.8 125.2,793.8 125.2,795.4 126.4,795.4 126.4,804.1 127.6,804.1 127.6,804.0 128.8,804.0 128.8,795.2 130.0,795.2 130.0,796.3 131.2,796.3 131.2,798.1 132.4,798.1 132.4,800.2 133.6,800.2 133.6,803.0 134.8,803.0 134.8,804.7 136.0,804.7 136.0,798.6 137.2,798.6 137.2,794.0 138.4,794.0 138.4,795.5 139.6,795.5 139.6,798.2 140.8,798.2 140.8,798.4 142.0,798.4 142.0,798.2 143.2,798.2 143.2,797.5 144.4,797.5 144.4,796.2 145.6,796.2 145.6,795.3 146.8,795.3 146.8,799.7 148.0,799.7 148.0,801.7 149.2,801.7 149.2,793.2 150.4,793.2 150.4,800.2 151.6,800.2 151.6,806.3 152.8,806.3 152.8,804.6 154.0,804.6 154.0,803.2 155.2,803.2 155.2,799.1 156.4,799.1 156.4,793.8 157.6,793.8 157.6,796.9 158.8,796.9 158.8,803.3 160.0,803.3 160.0,800.4 161.2,800.4 161.2,795.8 162.4,795.8 162.4,799.7 163.6,799.7 163.6,804.1 164.8,804.1 164.8,797.4 166.0,797.4 166.0,793.0 167.2,793.0 167.2,803.9 168.4,803.9 168.4,808.7 169.6,808.7 169.6,796.8 170.8,796.8 170.8,802.3 172.0,802.3 172.0,814.3 173.2,814.3 173.2,820.1 174.4,820.1 174.4,819.2 175.6,819.2 175.6,817.4 176.8,817.4 176.8,818.7 178.0,818.7 178.0,820.4 179.2,820.4 179.2,810.2 180.4,810.2 180.4,800.0 181.6,800.0 181.6,783.7 182.8,783.7 182.8,771.0 184.0,771.0 184.0,771.5 185.2,771.5 185.2,772.4 186.4,772.4 186.4,773.5 187.6,773.5 187.6,775.0 188.8,775.0 188.8,782.4 190.0,782.4 190.0,789.8 191.2,789.8 191.2,794.2 192.4,794.2 192.4,799.2 193.6,799.2 193.6,796.9 194.8,796.9 194.8,793.5 196.0,793.5 196.0,788.8 197.2,788.8 197.2,783.3 198.4,783.3 198.4,782.5 199.6,782.5 199.6,782.0 200.8,782.0 200.8,785.8 202.0,785.8 202.0,789.7 203.2,789.7 203.2,789.7 204.4,789.7 204.4,789.8 205.6,789.8 205.6,789.8 206.8,789.8 206.8,787.6 208.0,787.6 208.0,786.6 209.2,786.6 209.2,791.0 210.4,791.0 210.4,791.5 211.6,791.5 211.6,792.3 212.8,792.3 212.8,792.8 214.0,792.8 214.0,796.3 215.2,796.3 215.2,798.0 216.4,798.0 216.4,779.7 217.6,779.7 217.6,781.5 218.8,781.5 218.8,783.6 220.0,783.6 220.0,792.4 221.2,792.4 221.2,795.9 222.4,795.9 222.4,803.0 223.6,803.0 223.6,798.9 224.8,798.9 224.8,793.0 226.0,793.0 226.0,784.3 227.2,784.3 227.2,787.4 228.4,787.4 228.4,792.9 229.6,792.9 229.6,795.4 230.8,795.4 230.8,798.5 232.0,798.5 232.0,803.1 233.2,803.1 233.2,806.9 234.4,806.9 234.4,808.8 235.6,808.8 235.6,809.7 236.8,809.7 236.8,815.5 238.0,815.5 238.0,818.0 239.2,818.0 239.2,823.4 240.4,823.4 240.4,827.1 241.6,827.1 241.6,832.2 242.8,832.2 242.8,833.8 244.0,833.8 244.0,835.6 245.2,835.6 245.2,836.4 246.4,836.4 246.4,845.1 247.6,845.1 247.6,851.3 248.8,851.3 248.8,856.8 250.0,856.8 250.0,880.0 251.2,880.0 251.2,913.2 252.4,913.2 252.4,891.4 253.6,891.4 253.6,879.8 254.8,879.8 254.8,877.9 256.0,877.9 256.0,874.0 257.2,874.0 257.2,865.3 258.4,865.3 258.4,859.4 259.6,859.4 259.6,845.0 260.8,845.0 260.8,843.2 262.0,843.2 262.0,840.5 263.2,840.5 263.2,836.1 264.4,836.1 264.4,830.9 265.6,830.9 265.6,827.8 266.8,827.8 266.8,835.3 268.0,835.3 268.0,834.0 269.2,834.0 269.2,831.0 270.4,831.0 270.4,832.8 271.6,832.8 271.6,835.2 272.8,835.2 272.8,831.2 274.0,831.2 274.0,827.9 275.2,827.9 275.2,825.8 276.4,825.8 276.4,828.4 277.6,828.4 277.6,831.4 278.8,831.4 278.8,828.8 280.0,828.8 280.0,825.3 281.2,825.3 281.2,827.5 282.4,827.5 282.4,832.5 283.6,832.5 283.6,826.0 284.8,826.0 284.8,816.7 286.0,816.7 286.0,821.1 287.2,821.1 287.2,825.4 288.4,825.4 288.4,822.8 289.6,822.8 289.6,821.1 290.8,821.1 290.8,828.0 292.0,828.0 292.0,831.2 293.2,831.2 293.2,813.7 294.4,813.7 294.4,813.6 295.6,813.6 295.6,813.5 296.8,813.5 296.8,808.9 298.0,808.9 298.0,803.7 299.2,803.7 299.2,814.4 300.4,814.4 300.4,825.9 301.6,825.9 301.6,822.7 302.8,822.7 302.8,816.5 304.0,816.5 304.0,815.3 305.2,815.3 305.2,813.6 306.4,813.6 306.4,803.4 307.6,803.4 307.6,793.2 308.8,793.2 308.8,796.8 310.0,796.8 310.0,799.3 311.2,799.3 311.2,791.4 312.4,791.4 312.4,787.7 313.6,787.7 313.6,781.9 314.8,781.9 314.8,780.4 316.0,780.4 316.0,777.9 317.2,777.9 317.2,775.8 318.4,775.8 318.4,766.5 319.6,766.5 319.6,761.3 320.8,761.3 320.8,750.7 322.0,750.7 322.0,746.8 323.2,746.8 323.2,757.2 324.4,757.2 324.4,756.8 325.6,756.8 325.6,755.7 326.8,755.7 326.8,734.9 328.0,734.9 328.0,739.5 329.2,739.5 329.2,743.7 330.4,743.7 330.4,781.8 331.6,781.8 331.6,797.8 332.8,797.8 332.8,791.3 334.0,791.3 334.0,785.8 335.2,785.8 335.2,781.4 336.4,781.4 336.4,784.7 337.6,784.7 337.6,789.2 338.8,789.2 338.8,792.0 340.0,792.0 340.0,793.3 341.2,793.3 341.2,795.2 342.4,795.2 342.4,796.0 343.6,796.0 343.6,804.7 344.8,804.7 344.8,799.9 346.0,799.9 346.0,792.8 347.2,792.8 347.2,787.7 348.4,787.7 348.4,796.0 349.6,796.0 349.6,799.7 350.8,799.7 350.8,805.4 352.0,805.4 352.0,810.7 353.2,810.7 353.2,817.0 354.4,817.0 354.4,806.3 355.6,806.3 355.6,802.3 356.8,802.3 356.8,796.8 358.0,796.8 358.0,793.5 359.2,793.5 359.2,797.0 360.4,797.0 360.4,799.3 361.6,799.3 361.6,805.0 362.8,805.0 362.8,807.7 364.0,807.7 364.0,806.0 365.2,806.0 365.2,804.8 366.4,804.8 366.4,801.2 367.6,801.2 367.6,796.3 368.8,796.3 368.8,799.3 370.0,799.3 370.0,805.4 371.2,805.4 371.2,802.4 372.4,802.4 372.4,798.0 373.6,798.0 373.6,803.2 374.8,803.2 374.8,809.6 376.0,809.6 376.0,803.1 377.2,803.1 377.2,793.7 378.4,793.7 378.4,796.6 379.6,796.6 379.6,802.6 380.8,802.6 380.8,803.2 382.0,803.2 382.0,804.1 383.2,804.1 383.2,807.1 384.4,807.1 384.4,810.1 385.6,810.1 385.6,813.2 386.8,813.2 386.8,826.5 388.0,826.5 388.0,827.0 389.2,827.0 389.2,827.7 390.4,827.7 390.4,828.8 391.6,828.8 391.6,830.4 392.8,830.4 392.8,836.5 394.0,836.5 394.0,810.3 395.2,810.3 395.2,801.8 396.4,801.8 396.4,783.7 397.6,783.7 397.6,780.6 398.8,780.6 398.8,776.4 400.0,776.4 400.0,773.7 401.2,773.7 401.2,770.8 402.4,770.8 402.4,773.6 403.6,773.6 403.6,775.4 404.8,775.4 404.8,785.0 406.0,785.0 406.0,788.4 407.2,788.4 407.2,799.6 408.4,799.6 408.4,798.9 409.6,798.9 409.6,798.0 410.8,798.0 410.8,795.0 412.0,795.0 412.0,791.4 413.2,791.4 413.2,789.3 414.4,789.3 414.4,783.2 415.6,783.2 415.6,778.4 416.8,778.4 416.8,781.0 418.0,781.0 418.0,783.3 419.2,783.3 419.2,788.9 420.4,788.9 420.4,792.2 421.6,792.2 421.6,795.4 422.8,795.4 422.8,796.6 424.0,796.6 424.0,788.1 425.2,788.1 425.2,787.8 426.4,787.8 426.4,786.9 427.6,786.9 427.6,789.0 428.8,789.0 428.8,791.6 430.0,791.6 430.0,792.2 431.2,792.2 431.2,792.9 432.4,792.9 432.4,790.0 433.6,790.0 433.6,785.1 434.8,785.1 434.8,781.1 436.0,781.1 436.0,783.0 437.2,783.0 437.2,783.9 438.4,783.9 438.4,788.9 439.6,788.9 439.6,790.7 440.8,790.7 440.8,786.4 442.0,786.4 442.0,789.9 443.2,789.9 443.2,795.6 444.4,795.6 444.4,794.2 445.6,794.2 445.6,792.5 446.8,792.5 446.8,799.6 448.0,799.6 448.0,805.6 449.2,805.6 449.2,811.3 450.4,811.3 450.4,814.6 451.6,814.6 451.6,818.6 452.8,818.6 452.8,819.9 454.0,819.9 454.0,819.9 455.2,819.9 455.2,823.8 456.4,823.8 456.4,829.4 457.6,829.4 457.6,833.2 458.8,833.2 458.8,837.1 460.0,837.1 460.0,839.3 461.2,839.3 461.2,849.1 462.4,849.1 462.4,852.9 463.6,852.9 463.6,858.7 464.8,858.7 464.8,863.6 466.0,863.6 466.0,866.9 467.2,866.9 467.2,887.2 468.4,887.2 468.4,909.1 469.6,909.1 469.6,884.2 470.8,884.2 470.8,881.3 472.0,881.3 472.0,876.1 473.2,876.1 473.2,867.2 474.4,867.2 474.4,864.9 475.6,864.9 475.6,861.7 476.8,861.7 476.8,864.7 478.0,864.7 478.0,867.3 479.2,867.3 479.2,890.7 480.4,890.7 480.4,905.4 481.6,905.4 481.6,917.7 482.8,917.7 482.8,925.7 484.0,925.7 484.0,936.3 485.2,936.3 485.2,922.2 486.4,922.2 486.4,904.7 487.6,904.7 487.6,893.0 488.8,893.0 488.8,887.6 490.0,887.6 490.0,882.9 491.2,882.9 491.2,872.8 492.4,872.8 492.4,869.6 493.6,869.6 493.6,862.5 494.8,862.5 494.8,861.5 496.0,861.5 496.0,860.3 497.2,860.3 497.2,859.7 498.4,859.7 498.4,853.5 499.6,853.5 499.6,848.3 500.8,848.3 500.8,847.8 502.0,847.8 502.0,847.2 503.2,847.2 503.2,846.8 504.4,846.8 504.4,842.3 505.6,842.3 505.6,840.9 506.8,840.9 506.8,839.2 508.0,839.2 508.0,838.1 509.2,838.1 509.2,836.4 510.4,836.4 510.4,835.4 511.6,835.4 511.6,834.5 512.8,834.5 512.8,832.2 514.0,832.2 514.0,828.5 515.2,828.5 515.2,825.6 516.4,825.6 516.4,826.7 517.6,826.7 517.6,827.1 518.8,827.1 518.8,813.8 520.0,813.8 520.0,814.6 521.2,814.6 521.2,816.4 522.4,816.4 522.4,810.6 523.6,810.6 523.6,800.3 524.8,800.3 524.8,801.1 526.0,801.1 526.0,802.2 527.2,802.2 527.2,794.4 528.4,794.4 528.4,787.6 529.6,787.6 529.6,783.7 530.8,783.7 530.8,781.5 532.0,781.5 532.0,782.7 533.2,782.7 533.2,783.3 534.4,783.3 534.4,773.2 535.6,773.2 535.6,769.0 536.8,769.0 536.8,763.0 538.0,763.0 538.0,757.1 539.2,757.1 539.2,756.2 540.4,756.2 540.4,754.5 541.6,754.5 541.6,751.9 542.8,751.9 542.8,748.4 544.0,748.4 544.0,727.5 545.2,727.5 545.2,731.9 546.4,731.9 546.4,739.2 547.6,739.2 547.6,735.2 548.8,735.2 548.8,729.2 550.0,729.2 550.0,723.6 551.2,723.6 551.2,720.5 552.4,720.5 552.4,748.3 553.6,748.3 553.6,767.2 554.8,767.2 554.8,790.4 556.0,790.4 556.0,784.5 557.2,784.5 557.2,780.1 558.4,780.1 558.4,771.2 559.6,771.2 559.6,775.7 560.8,775.7 560.8,778.6 562.0,778.6 562.0,782.0 563.2,782.0 563.2,783.3 564.4,783.3 564.4,801.1 565.6,801.1 565.6,796.9 566.8,796.9 566.8,795.3 568.0,795.3 568.0,805.5 569.2,805.5 569.2,802.8 570.4,802.8 570.4,798.1 571.6,798.1 571.6,800.5 572.8,800.5 572.8,803.6 574.0,803.6 574.0,799.0 575.2,799.0 575.2,795.3 576.4,795.3 576.4,797.3 577.6,797.3 577.6,798.2 578.8,798.2 578.8,794.2 580.0,794.2 580.0,792.7 581.2,792.7 581.2,799.5 582.4,799.5 582.4,803.5 583.6,803.5 583.6,800.9 584.8,800.9 584.8,799.1 586.0,799.1 586.0,803.2 587.2,803.2 587.2,805.1 588.4,805.1 588.4,806.9 589.6,806.9 589.6,808.3 590.8,808.3 590.8,809.5 592.0,809.5 592.0,810.9 593.2,810.9 593.2,810.0 594.4,810.0 594.4,809.2 595.6,809.2 595.6,800.1 596.8,800.1 596.8,801.4 598.0,801.4 598.0,802.6 599.2,802.6 599.2,802.6 600.4,802.6 600.4,802.6 601.6,802.6 601.6,802.5 602.8,802.5 602.8,802.2 604.0,802.2 604.0,802.1 605.2,802.1 605.2,802.2 606.4,802.2 606.4,802.5 607.6,802.5 607.6,802.7 608.8,802.7 608.8,803.5 610.0,803.5 610.0,803.9 611.2,803.9 611.2,804.6 612.4,804.6 612.4,805.3 613.6,805.3 613.6,805.9 614.8,805.9 614.8,806.4 616.0,806.4 616.0,805.0 617.2,805.0 617.2,804.0 618.4,804.0 618.4,802.6 619.6,802.6 619.6,803.3 620.8,803.3 620.8,804.3 622.0,804.3 622.0,805.0 623.2,805.0 623.2,804.1 624.4,804.1 624.4,803.3 625.6,803.3 625.6,804.1 626.8,804.1 626.8,804.7 628.0,804.7 628.0,804.9 629.2,804.9 629.2,803.5 630.4,803.5 630.4,802.7 631.6,802.7 631.6,801.8 632.8,801.8 632.8,802.0 634.0,802.0 634.0,802.3 635.2,802.3 635.2,802.6 636.4,802.6 636.4,802.8 637.6,802.8 637.6,802.0 638.8,802.0 638.8,801.2 640.0,801.2 640.0,800.6 641.2,800.6 641.2,800.1 642.4,800.1 642.4,801.7 643.6,801.7 643.6,802.9 644.8,802.9 644.8,803.6 646.0,803.6 646.0,805.8 647.2,805.8 647.2,801.5 648.4,801.5 648.4,796.7 649.6,796.7 649.6,794.8 650.8,794.8 650.8,793.9 652.0,793.9 652.0,786.4 653.2,786.4 653.2,785.7 653.7,785.7" fill="none" stroke="#7E2F8E" stroke-width="1.9" stroke-linejoin="round"/>
<line x1="180.58" y1="1045.00" x2="180.58" y2="582.60" stroke="#383838" stroke-width="1.2" stroke-dasharray="5.1 3.4"/>
<line x1="341.14" y1="1045.00" x2="341.14" y2="582.60" stroke="#383838" stroke-width="1.2" stroke-dasharray="5.1 3.4"/>
<line x1="394.01" y1="1045.00" x2="394.01" y2="582.60" stroke="#383838" stroke-width="1.2" stroke-dasharray="5.1 3.4"/>
<line x1="563.37" y1="1045.00" x2="563.37" y2="582.60" stroke="#383838" stroke-width="1.2" stroke-dasharray="5.1 3.4"/>
<path d="M184.50,1045.00V1039.20M184.50,582.60V588.40M282.40,1045.00V1039.20M282.40,582.60V588.40M380.30,1045.00V1039.20M380.30,582.60V588.40M478.20,1045.00V1039.20M478.20,582.60V588.40M576.10,1045.00V1039.20M576.10,582.60V588.40M86.60,929.40H92.40M674.00,929.40H668.20M86.60,813.80H92.40M674.00,813.80H668.20M86.60,698.20H92.40M674.00,698.20H668.20" stroke="#505050" stroke-width="1.3" fill="none"/>
<rect x="86.60" y="582.60" width="587.40" height="462.40" fill="none" stroke="#505050" stroke-width="1.5"/>
<rect x="517.9" y="596.8" width="141.60000000000002" height="88.60000000000002" fill="#fff" stroke="#262626" stroke-width="1"/>
<line x1="523.1" y1="609.7" x2="576.7" y2="609.7" stroke="#0072BD" stroke-width="1.9"/>
<text x="581.4" y="616.3000000000001" font-size="16.2" fill="#000">LH FOOT</text>
<line x1="523.1" y1="631.0" x2="576.7" y2="631.0" stroke="#D95319" stroke-width="1.9"/>
<text x="581.4" y="637.6" font-size="16.2" fill="#000">LF FOOT</text>
<line x1="523.1" y1="652.3" x2="576.7" y2="652.3" stroke="#EDB120" stroke-width="1.9"/>
<text x="581.4" y="658.9" font-size="16.2" fill="#000">RF FOOT</text>
<line x1="523.1" y1="673.5" x2="576.7" y2="673.5" stroke="#7E2F8E" stroke-width="1.9"/>
<text x="581.4" y="680.1" font-size="16.2" fill="#000">RH FOOT</text>
<text x="86.60" y="1070.7" font-size="17.8" text-anchor="middle" fill="#262626">0</text>
<text x="184.50" y="1070.7" font-size="17.8" text-anchor="middle" fill="#262626">5</text>
<text x="282.40" y="1070.7" font-size="17.8" text-anchor="middle" fill="#262626">10</text>
<text x="380.30" y="1070.7" font-size="17.8" text-anchor="middle" fill="#262626">15</text>
<text x="478.20" y="1070.7" font-size="17.8" text-anchor="middle" fill="#262626">20</text>
<text x="576.10" y="1070.7" font-size="17.8" text-anchor="middle" fill="#262626">25</text>
<text x="674.00" y="1070.7" font-size="17.8" text-anchor="middle" fill="#262626">30</text>
<text x="79.3" y="1051.90" font-size="17.8" text-anchor="end" fill="#262626">450</text>
<text x="79.3" y="936.30" font-size="17.8" text-anchor="end" fill="#262626">550</text>
<text x="79.3" y="820.70" font-size="17.8" text-anchor="end" fill="#262626">650</text>
<text x="79.3" y="705.10" font-size="17.8" text-anchor="end" fill="#262626">750</text>
<text x="79.3" y="589.50" font-size="17.8" text-anchor="end" fill="#262626">850</text>
<text x="180.2" y="576.1" font-size="17.8" text-anchor="middle" fill="#000">4.8</text>
<text x="340.8" y="576.1" font-size="17.8" text-anchor="middle" fill="#000">13</text>
<text x="395.2" y="576.1" font-size="17.8" text-anchor="middle" fill="#000">15.7</text>
<text x="568" y="576.1" font-size="17.8" text-anchor="middle" fill="#000">24.35</text>
<text x="381.0" y="1096.9" font-size="19.8" text-anchor="middle" fill="#262626">Time (s)</text>
<text transform="translate(38.9,813.0) rotate(-90)" font-size="19.8" text-anchor="middle" fill="#262626">Force (N)</text>
<text x="1.8" y="594.2" font-size="30" font-weight="bold" style="font-family:Liberation Serif,serif" fill="#000">(b)</text>
</svg>
</body></html>
